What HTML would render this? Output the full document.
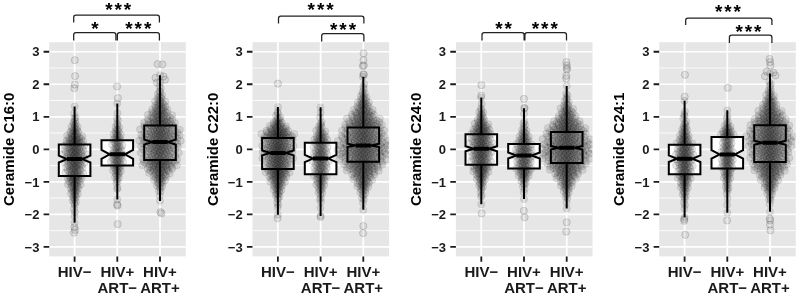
<!DOCTYPE html>
<html lang="en"><head><meta charset="utf-8"><title>Ceramide levels by HIV / ART status</title>
<style>html,body{margin:0;padding:0;background:#fff}svg{display:block}text{font-family:"Liberation Sans",Arial,Helvetica,sans-serif;font-weight:bold}.yt{font-size:13px;fill:#1a1a1a;text-anchor:end}.xt{font-size:15px;fill:#1a1a1a;text-anchor:middle}.ti{font-size:15px;fill:#000;text-anchor:middle}.st{font-size:19px;letter-spacing:1.9px;fill:#000;text-anchor:middle}.pt circle{r:3.6px}</style></head><body>
<svg width="800" height="298" viewBox="0 0 800 298">
<rect width="800" height="298" fill="#fff"/>
<defs><filter id="sf" x="-5%" y="-5%" width="110%" height="110%"><feGaussianBlur stdDeviation="0.75"/></filter><filter id="so" x="-20%" y="-5%" width="140%" height="110%"><feGaussianBlur stdDeviation="0.4"/></filter></defs>
<g>
<rect x="49.2" y="42.2" width="136.6" height="214.2" fill="#e6e6e6"/>
<path d="M49.2 230.60H185.8M49.2 198.08H185.8M49.2 165.56H185.8M49.2 133.04H185.8M49.2 100.52H185.8M49.2 68.00H185.8" stroke="#fff" stroke-width="0.85" fill="none"/>
<path d="M49.2 246.86H185.8M49.2 214.34H185.8M49.2 181.82H185.8M49.2 149.30H185.8M49.2 116.78H185.8M49.2 84.26H185.8M49.2 51.74H185.8M74.60 42.2V256.4M117.30 42.2V256.4M160.00 42.2V256.4" stroke="#fff" stroke-width="1.7" fill="none"/>
<path d="M43.6 246.86H49.2M43.6 214.34H49.2M43.6 181.82H49.2M43.6 149.30H49.2M43.6 116.78H49.2M43.6 84.26H49.2M43.6 51.74H49.2M74.60 256.4V261.7M117.30 256.4V261.7M160.00 256.4V261.7" stroke="#1a1a1a" stroke-width="1.8" fill="none"/>
<text class="yt" x="39.4" y="251.5">−3</text>
<text class="yt" x="39.4" y="219.0">−2</text>
<text class="yt" x="39.4" y="186.5">−1</text>
<text class="yt" x="39.4" y="154.0">0</text>
<text class="yt" x="39.4" y="121.4">1</text>
<text class="yt" x="39.4" y="88.9">2</text>
<text class="yt" x="39.4" y="56.4">3</text>
<text class="xt" x="74.6" y="277.0">HIV−</text>
<text class="xt" x="117.3" y="277.0">HIV+</text>
<text class="xt" x="117.3" y="293.3">ART−</text>
<text class="xt" x="160.0" y="277.0">HIV+</text>
<text class="xt" x="160.0" y="293.3">ART+</text>
<text class="ti" transform="translate(14.3 149.3) rotate(-90)">Ceramide C16:0</text>
<path d="M58.8 144.4H90.4V155.6L82.2 159.1L90.4 162.5V176.0H58.8V162.5L67.0 159.1L58.8 155.6ZM101.5 140.2H133.1V149.9L124.9 154.3L133.1 158.8V165.6H101.5V158.8L109.7 154.3L101.5 149.9ZM144.2 125.6H175.8V139.6L167.6 142.1L175.8 144.6V160.0H144.2V144.6L152.4 142.1L144.2 139.6Z" fill="#fff"/>
<clipPath id="cp0"><rect x="49.2" y="42.2" width="136.6" height="214.2"/></clipPath>
<g clip-path="url(#cp0)">
<g class="pt" filter="url(#sf)" fill="#000" fill-opacity=".10" stroke="#000" stroke-opacity=".09" stroke-width="0.9">
<circle r="3.6" cx="74.6" cy="222.8"/><circle r="3.6" cx="74.4" cy="215.9"/><circle r="3.6" cx="74.9" cy="212.1"/><circle r="3.6" cx="74" cy="208.9"/><circle r="3.6" cx="74.8" cy="205"/><circle r="3.6" cx="74.3" cy="203.1"/><circle r="3.6" cx="75.9" cy="202"/><circle r="3.6" cx="72.7" cy="200.5"/><circle r="3.6" cx="74.8" cy="199.5"/><circle r="3.6" cx="73.8" cy="198"/><circle r="3.6" cx="76.1" cy="197.1"/><circle r="3.6" cx="73" cy="196.8"/><circle r="3.6" cx="75.5" cy="195.3"/><circle r="3.6" cx="74.3" cy="195"/><circle r="3.6" cx="77.8" cy="193.7"/><circle r="3.6" cx="70.9" cy="193.4"/><circle r="3.6" cx="74.8" cy="192.2"/><circle r="3.6" cx="73.2" cy="191.7"/><circle r="3.6" cx="76.5" cy="191.2"/><circle r="3.6" cx="72" cy="190.5"/><circle r="3.6" cx="75.6" cy="190.1"/><circle r="3.6" cx="74" cy="189.5"/><circle r="3.6" cx="78.3" cy="188.6"/><circle r="3.6" cx="70.8" cy="188.1"/><circle r="3.6" cx="75.3" cy="187.6"/><circle r="3.6" cx="73.4" cy="187.2"/><circle r="3.6" cx="77.9" cy="186.4"/><circle r="3.6" cx="72" cy="185.9"/><circle r="3.6" cx="76.6" cy="185.6"/><circle r="3.6" cx="74.3" cy="185.1"/><circle r="3.6" cx="80.7" cy="184.6"/><circle r="3.6" cx="67.9" cy="184.3"/><circle r="3.6" cx="74.7" cy="184"/><circle r="3.6" cx="72.2" cy="183.3"/><circle r="3.6" cx="77.4" cy="183"/><circle r="3.6" cx="70.4" cy="182.7"/><circle r="3.6" cx="76" cy="182.2"/><circle r="3.6" cx="73.5" cy="181.7"/><circle r="3.6" cx="79.7" cy="181.3"/><circle r="3.6" cx="68.8" cy="181.1"/><circle r="3.6" cx="75.4" cy="180.6"/><circle r="3.6" cx="72.7" cy="180.3"/><circle r="3.6" cx="78.7" cy="179.9"/><circle r="3.6" cx="70.9" cy="179.6"/><circle r="3.6" cx="76.9" cy="179.2"/><circle r="3.6" cx="74.1" cy="178.7"/><circle r="3.6" cx="81.7" cy="178.6"/><circle r="3.6" cx="67.5" cy="178.1"/><circle r="3.6" cx="75.1" cy="178"/><circle r="3.6" cx="72.2" cy="177.4"/><circle r="3.6" cx="78.5" cy="177.1"/><circle r="3.6" cx="70.2" cy="176.9"/><circle r="3.6" cx="76.6" cy="176.4"/><circle r="3.6" cx="73.7" cy="176.3"/><circle r="3.6" cx="81.1" cy="175.9"/><circle r="3.6" cx="68.9" cy="175.6"/><circle r="3.6" cx="75.9" cy="175.2"/><circle r="3.6" cx="72.9" cy="174.7"/><circle r="3.6" cx="79.7" cy="174.5"/><circle r="3.6" cx="71.2" cy="174.2"/><circle r="3.6" cx="77.6" cy="173.8"/><circle r="3.6" cx="74.4" cy="173.5"/><circle r="3.6" cx="83.3" cy="173.2"/><circle r="3.6" cx="65.4" cy="172.7"/><circle r="3.6" cx="74.7" cy="172.5"/><circle r="3.6" cx="71.5" cy="172"/><circle r="3.6" cx="78" cy="171.8"/><circle r="3.6" cx="69.2" cy="171.3"/><circle r="3.6" cx="76.2" cy="171.1"/><circle r="3.6" cx="73.2" cy="170.9"/><circle r="3.6" cx="80.4" cy="170.4"/><circle r="3.6" cx="67.5" cy="170"/><circle r="3.6" cx="75.4" cy="169.8"/><circle r="3.6" cx="72.3" cy="169.4"/><circle r="3.6" cx="79.2" cy="169.2"/><circle r="3.6" cx="70.2" cy="168.9"/><circle r="3.6" cx="77.2" cy="168.5"/><circle r="3.6" cx="73.9" cy="168.1"/><circle r="3.6" cx="82.4" cy="167.8"/><circle r="3.6" cx="66.2" cy="167.6"/><circle r="3.6" cx="75.1" cy="167.2"/><circle r="3.6" cx="71.7" cy="167"/><circle r="3.6" cx="78.8" cy="166.7"/><circle r="3.6" cx="69.4" cy="166.3"/><circle r="3.6" cx="76.8" cy="166.1"/><circle r="3.6" cx="73.5" cy="165.7"/><circle r="3.6" cx="81.7" cy="165.4"/><circle r="3.6" cx="67.9" cy="165.1"/><circle r="3.6" cx="75.9" cy="165"/><circle r="3.6" cx="72.6" cy="164.5"/><circle r="3.6" cx="80.3" cy="164.2"/><circle r="3.6" cx="70.5" cy="163.9"/><circle r="3.6" cx="77.9" cy="163.8"/><circle r="3.6" cx="74.3" cy="163.3"/><circle r="3.6" cx="84.3" cy="163"/><circle r="3.6" cx="64.9" cy="162.7"/><circle r="3.6" cx="74.9" cy="162.6"/><circle r="3.6" cx="71.2" cy="162.1"/><circle r="3.6" cx="78.8" cy="161.9"/><circle r="3.6" cx="68.7" cy="161.6"/><circle r="3.6" cx="76.7" cy="161.4"/><circle r="3.6" cx="73.2" cy="161.2"/><circle r="3.6" cx="81.8" cy="160.7"/><circle r="3.6" cx="66.9" cy="160.4"/><circle r="3.6" cx="75.8" cy="160.3"/><circle r="3.6" cx="72.2" cy="159.9"/><circle r="3.6" cx="80.4" cy="159.7"/><circle r="3.6" cx="69.8" cy="159.2"/><circle r="3.6" cx="77.9" cy="159.2"/><circle r="3.6" cx="74.1" cy="158.8"/><circle r="3.6" cx="84.3" cy="158.5"/><circle r="3.6" cx="65.5" cy="158.4"/><circle r="3.6" cx="75.4" cy="158"/><circle r="3.6" cx="71.5" cy="157.9"/><circle r="3.6" cx="79.8" cy="157.5"/><circle r="3.6" cx="69" cy="157.3"/><circle r="3.6" cx="77.4" cy="157"/><circle r="3.6" cx="73.6" cy="156.9"/><circle r="3.6" cx="83.3" cy="156.5"/><circle r="3.6" cx="67.4" cy="156.4"/><circle r="3.6" cx="76.4" cy="156.1"/><circle r="3.6" cx="72.6" cy="155.8"/><circle r="3.6" cx="81.4" cy="155.4"/><circle r="3.6" cx="70.3" cy="155.3"/><circle r="3.6" cx="78.6" cy="155.1"/><circle r="3.6" cx="74.5" cy="154.8"/><circle r="3.6" cx="86.3" cy="154.4"/><circle r="3.6" cx="62.6" cy="154.3"/><circle r="3.6" cx="74.7" cy="154.1"/><circle r="3.6" cx="70.6" cy="153.8"/><circle r="3.6" cx="78.8" cy="153.5"/><circle r="3.6" cx="67.8" cy="153.2"/><circle r="3.6" cx="76.5" cy="152.9"/><circle r="3.6" cx="72.8" cy="152.7"/><circle r="3.6" cx="81.6" cy="152.5"/><circle r="3.6" cx="65.9" cy="152.2"/><circle r="3.6" cx="75.6" cy="151.8"/><circle r="3.6" cx="71.8" cy="151.6"/><circle r="3.6" cx="80" cy="151.3"/><circle r="3.6" cx="69.4" cy="151.1"/><circle r="3.6" cx="77.5" cy="150.8"/><circle r="3.6" cx="73.8" cy="150.6"/><circle r="3.6" cx="83.4" cy="150.2"/><circle r="3.6" cx="64.9" cy="150.1"/><circle r="3.6" cx="75.1" cy="149.8"/><circle r="3.6" cx="71.3" cy="149.4"/><circle r="3.6" cx="79.2" cy="149.3"/><circle r="3.6" cx="68.9" cy="148.8"/><circle r="3.6" cx="76.9" cy="148.7"/><circle r="3.6" cx="73.4" cy="148.3"/><circle r="3.6" cx="82.1" cy="148.2"/><circle r="3.6" cx="67.3" cy="147.8"/><circle r="3.6" cx="76" cy="147.6"/><circle r="3.6" cx="72.4" cy="147.2"/><circle r="3.6" cx="80.4" cy="147"/><circle r="3.6" cx="70.3" cy="146.6"/><circle r="3.6" cx="77.9" cy="146.2"/><circle r="3.6" cx="74.2" cy="146.1"/><circle r="3.6" cx="84.2" cy="145.6"/><circle r="3.6" cx="64.6" cy="145.5"/><circle r="3.6" cx="74.9" cy="145.2"/><circle r="3.6" cx="71.2" cy="144.8"/><circle r="3.6" cx="78.7" cy="144.5"/><circle r="3.6" cx="68.7" cy="144.1"/><circle r="3.6" cx="76.6" cy="143.9"/><circle r="3.6" cx="73.2" cy="143.8"/><circle r="3.6" cx="81.4" cy="143.5"/><circle r="3.6" cx="67.2" cy="143.1"/><circle r="3.6" cx="75.7" cy="142.8"/><circle r="3.6" cx="72.3" cy="142.7"/><circle r="3.6" cx="79.8" cy="142.4"/><circle r="3.6" cx="70.2" cy="142"/><circle r="3.6" cx="77.5" cy="141.9"/><circle r="3.6" cx="74.1" cy="141.6"/><circle r="3.6" cx="83" cy="141.2"/><circle r="3.6" cx="66.5" cy="140.9"/><circle r="3.6" cx="75.2" cy="140.7"/><circle r="3.6" cx="71.9" cy="140.3"/><circle r="3.6" cx="78.9" cy="140"/><circle r="3.6" cx="69.9" cy="139.7"/><circle r="3.6" cx="76.8" cy="139.4"/><circle r="3.6" cx="73.7" cy="139.2"/><circle r="3.6" cx="81.4" cy="138.9"/><circle r="3.6" cx="68.9" cy="138.4"/><circle r="3.6" cx="75.9" cy="138.1"/><circle r="3.6" cx="73" cy="137.9"/><circle r="3.6" cx="79.5" cy="137.5"/><circle r="3.6" cx="71.5" cy="137"/><circle r="3.6" cx="77.3" cy="136.7"/><circle r="3.6" cx="74.5" cy="136.3"/><circle r="3.6" cx="82.3" cy="136.1"/><circle r="3.6" cx="67.1" cy="135.6"/><circle r="3.6" cx="74.7" cy="135.2"/><circle r="3.6" cx="72.2" cy="134.9"/><circle r="3.6" cx="77.2" cy="134.1"/><circle r="3.6" cx="70.7" cy="133.8"/><circle r="3.6" cx="75.8" cy="133.6"/><circle r="3.6" cx="73.7" cy="132.8"/><circle r="3.6" cx="78.4" cy="132.2"/><circle r="3.6" cx="70.3" cy="131.8"/><circle r="3.6" cx="75.1" cy="131.4"/><circle r="3.6" cx="73.3" cy="130.9"/><circle r="3.6" cx="77.1" cy="130.1"/><circle r="3.6" cx="72.4" cy="129.7"/><circle r="3.6" cx="75.8" cy="128.8"/><circle r="3.6" cx="74.3" cy="128.1"/><circle r="3.6" cx="77.7" cy="127"/><circle r="3.6" cx="71.4" cy="126.9"/><circle r="3.6" cx="74.8" cy="125.6"/><circle r="3.6" cx="73.8" cy="124.3"/><circle r="3.6" cx="75.8" cy="123.8"/><circle r="3.6" cx="73.4" cy="122.3"/><circle r="3.6" cx="75.1" cy="121.2"/><circle r="3.6" cx="74.4" cy="118.4"/><circle r="3.6" cx="75.6" cy="117.4"/><circle r="3.6" cx="74.1" cy="113.4"/><circle r="3.6" cx="74.7" cy="106.4"/>
<circle r="3.6" cx="117.3" cy="199.4"/><circle r="3.6" cx="117" cy="189"/><circle r="3.6" cx="117.7" cy="187.9"/><circle r="3.6" cx="116.4" cy="182.6"/><circle r="3.6" cx="117.6" cy="181.6"/><circle r="3.6" cx="116.9" cy="179.7"/><circle r="3.6" cx="118.9" cy="177.9"/><circle r="3.6" cx="115" cy="177.1"/><circle r="3.6" cx="117.6" cy="175.9"/><circle r="3.6" cx="116.4" cy="175.4"/><circle r="3.6" cx="119.1" cy="173.9"/><circle r="3.6" cx="115.4" cy="173.2"/><circle r="3.6" cx="118.4" cy="172.5"/><circle r="3.6" cx="116.9" cy="171.5"/><circle r="3.6" cx="120.9" cy="171.1"/><circle r="3.6" cx="113" cy="170.3"/><circle r="3.6" cx="117.5" cy="169.8"/><circle r="3.6" cx="115.7" cy="169"/><circle r="3.6" cx="119.4" cy="168.5"/><circle r="3.6" cx="114.4" cy="167.9"/><circle r="3.6" cx="118.5" cy="167.1"/><circle r="3.6" cx="116.6" cy="166.7"/><circle r="3.6" cx="121.2" cy="166.1"/><circle r="3.6" cx="113.2" cy="165.3"/><circle r="3.6" cx="118" cy="164.8"/><circle r="3.6" cx="116" cy="164.4"/><circle r="3.6" cx="120.6" cy="163.9"/><circle r="3.6" cx="114.7" cy="163.5"/><circle r="3.6" cx="119.2" cy="163.1"/><circle r="3.6" cx="117" cy="162.2"/><circle r="3.6" cx="123.2" cy="161.9"/><circle r="3.6" cx="110.9" cy="161.6"/><circle r="3.6" cx="117.4" cy="160.9"/><circle r="3.6" cx="115.1" cy="160.3"/><circle r="3.6" cx="119.9" cy="159.9"/><circle r="3.6" cx="113.4" cy="159.3"/><circle r="3.6" cx="118.6" cy="159.3"/><circle r="3.6" cx="116.3" cy="158.6"/><circle r="3.6" cx="121.8" cy="158.2"/><circle r="3.6" cx="112.3" cy="157.9"/><circle r="3.6" cx="118" cy="157.2"/><circle r="3.6" cx="115.7" cy="156.6"/><circle r="3.6" cx="120.7" cy="156.3"/><circle r="3.6" cx="114.3" cy="156"/><circle r="3.6" cx="119.2" cy="155.3"/><circle r="3.6" cx="116.9" cy="155"/><circle r="3.6" cx="122.7" cy="154.6"/><circle r="3.6" cx="112" cy="153.9"/><circle r="3.6" cx="117.7" cy="153.7"/><circle r="3.6" cx="115.6" cy="152.8"/><circle r="3.6" cx="120" cy="152.3"/><circle r="3.6" cx="114.3" cy="151.7"/><circle r="3.6" cx="118.7" cy="151.4"/><circle r="3.6" cx="116.7" cy="150.5"/><circle r="3.6" cx="121.5" cy="150.3"/><circle r="3.6" cx="113.6" cy="149.8"/><circle r="3.6" cx="118.1" cy="148.8"/><circle r="3.6" cx="116.3" cy="148.2"/><circle r="3.6" cx="120.4" cy="147.6"/><circle r="3.6" cx="115.2" cy="147.2"/><circle r="3.6" cx="119.1" cy="146.7"/><circle r="3.6" cx="117.2" cy="146.3"/><circle r="3.6" cx="122.4" cy="145.3"/><circle r="3.6" cx="112" cy="144.7"/><circle r="3.6" cx="117.3" cy="144"/><circle r="3.6" cx="115.5" cy="143.7"/><circle r="3.6" cx="119.2" cy="143.1"/><circle r="3.6" cx="114.3" cy="142.2"/><circle r="3.6" cx="118.2" cy="141.4"/><circle r="3.6" cx="116.5" cy="140.6"/><circle r="3.6" cx="120.5" cy="140.4"/><circle r="3.6" cx="113.5" cy="139.6"/><circle r="3.6" cx="117.7" cy="138.8"/><circle r="3.6" cx="116.1" cy="138.5"/><circle r="3.6" cx="119.7" cy="137.8"/><circle r="3.6" cx="115.1" cy="137.5"/><circle r="3.6" cx="118.6" cy="136.5"/><circle r="3.6" cx="117" cy="135.6"/><circle r="3.6" cx="120.9" cy="135"/><circle r="3.6" cx="113.6" cy="134.2"/><circle r="3.6" cx="117.5" cy="133.6"/><circle r="3.6" cx="116.1" cy="133.1"/><circle r="3.6" cx="118.9" cy="131.8"/><circle r="3.6" cx="115.4" cy="131.4"/><circle r="3.6" cx="118" cy="129.9"/><circle r="3.6" cx="116.9" cy="129.6"/><circle r="3.6" cx="119.2" cy="127.6"/><circle r="3.6" cx="115.6" cy="127.1"/><circle r="3.6" cx="117.6" cy="125.5"/><circle r="3.6" cx="117" cy="123.9"/><circle r="3.6" cx="118" cy="120.4"/><circle r="3.6" cx="116.9" cy="118.6"/><circle r="3.6" cx="117.5" cy="113.2"/><circle r="3.6" cx="117.3" cy="103.4"/>
<circle r="3.6" cx="160" cy="201"/><circle r="3.6" cx="159.7" cy="195.9"/><circle r="3.6" cx="160.7" cy="191.5"/><circle r="3.6" cx="158.8" cy="190.8"/><circle r="3.6" cx="160.5" cy="188.4"/><circle r="3.6" cx="159.4" cy="187"/><circle r="3.6" cx="162.2" cy="186.4"/><circle r="3.6" cx="156.9" cy="185.5"/><circle r="3.6" cx="160.4" cy="184.4"/><circle r="3.6" cx="158.7" cy="183.3"/><circle r="3.6" cx="162.5" cy="182.7"/><circle r="3.6" cx="157.4" cy="182.3"/><circle r="3.6" cx="161.5" cy="181.5"/><circle r="3.6" cx="159.5" cy="180.8"/><circle r="3.6" cx="165.1" cy="180.3"/><circle r="3.6" cx="153.8" cy="179.7"/><circle r="3.6" cx="160.3" cy="179.1"/><circle r="3.6" cx="157.7" cy="178.8"/><circle r="3.6" cx="163.2" cy="178.4"/><circle r="3.6" cx="155.7" cy="178"/><circle r="3.6" cx="161.7" cy="177.5"/><circle r="3.6" cx="159" cy="177"/><circle r="3.6" cx="166.2" cy="176.4"/><circle r="3.6" cx="153.7" cy="176"/><circle r="3.6" cx="161.1" cy="175.8"/><circle r="3.6" cx="158" cy="175.2"/><circle r="3.6" cx="165.3" cy="174.9"/><circle r="3.6" cx="155.8" cy="174.5"/><circle r="3.6" cx="163.2" cy="174.3"/><circle r="3.6" cx="159.6" cy="174"/><circle r="3.6" cx="169.7" cy="173.6"/><circle r="3.6" cx="149.1" cy="173"/><circle r="3.6" cx="160.2" cy="172.8"/><circle r="3.6" cx="156.1" cy="172.4"/><circle r="3.6" cx="164.6" cy="172.2"/><circle r="3.6" cx="153.1" cy="171.9"/><circle r="3.6" cx="162.3" cy="171.6"/><circle r="3.6" cx="158.2" cy="171.3"/><circle r="3.6" cx="168.4" cy="170.9"/><circle r="3.6" cx="150.4" cy="170.7"/><circle r="3.6" cx="161.3" cy="170.4"/><circle r="3.6" cx="156.8" cy="170.2"/><circle r="3.6" cx="167" cy="169.8"/><circle r="3.6" cx="153.8" cy="169.7"/><circle r="3.6" cx="164" cy="169.3"/><circle r="3.6" cx="159.2" cy="169.2"/><circle r="3.6" cx="172.2" cy="168.9"/><circle r="3.6" cx="147.7" cy="168.7"/><circle r="3.6" cx="160.9" cy="168.5"/><circle r="3.6" cx="155.7" cy="168.3"/><circle r="3.6" cx="166.8" cy="167.9"/><circle r="3.6" cx="152.1" cy="167.7"/><circle r="3.6" cx="163.7" cy="167.4"/><circle r="3.6" cx="158.4" cy="167.2"/><circle r="3.6" cx="171.8" cy="167"/><circle r="3.6" cx="149.4" cy="166.7"/><circle r="3.6" cx="162.3" cy="166.5"/><circle r="3.6" cx="156.9" cy="166.3"/><circle r="3.6" cx="169.6" cy="166.1"/><circle r="3.6" cx="153.5" cy="166"/><circle r="3.6" cx="165.7" cy="165.8"/><circle r="3.6" cx="159.7" cy="165.6"/><circle r="3.6" cx="176.8" cy="165.3"/><circle r="3.6" cx="142.3" cy="165.2"/><circle r="3.6" cx="160.2" cy="165"/><circle r="3.6" cx="153.9" cy="164.6"/><circle r="3.6" cx="166.6" cy="164.6"/><circle r="3.6" cx="149.5" cy="164.3"/><circle r="3.6" cx="163.2" cy="164.1"/><circle r="3.6" cx="157.2" cy="163.9"/><circle r="3.6" cx="171.4" cy="163.7"/><circle r="3.6" cx="146.2" cy="163.5"/><circle r="3.6" cx="161.6" cy="163.3"/><circle r="3.6" cx="155.5" cy="163.1"/><circle r="3.6" cx="169" cy="162.9"/><circle r="3.6" cx="151.6" cy="162.8"/><circle r="3.6" cx="165" cy="162.5"/><circle r="3.6" cx="158.7" cy="162.5"/><circle r="3.6" cx="174.9" cy="162.2"/><circle r="3.6" cx="144" cy="162.1"/><circle r="3.6" cx="160.9" cy="162"/><circle r="3.6" cx="154.6" cy="161.7"/><circle r="3.6" cx="167.9" cy="161.5"/><circle r="3.6" cx="150.3" cy="161.3"/><circle r="3.6" cx="164.1" cy="161.3"/><circle r="3.6" cx="158" cy="161.1"/><circle r="3.6" cx="173.1" cy="160.9"/><circle r="3.6" cx="147.7" cy="160.6"/><circle r="3.6" cx="162.4" cy="160.6"/><circle r="3.6" cx="156.3" cy="160.4"/><circle r="3.6" cx="170.2" cy="160.1"/><circle r="3.6" cx="152.6" cy="160"/><circle r="3.6" cx="165.9" cy="159.8"/><circle r="3.6" cx="159.5" cy="159.7"/><circle r="3.6" cx="177.1" cy="159.4"/><circle r="3.6" cx="143" cy="159.2"/><circle r="3.6" cx="160.5" cy="158.9"/><circle r="3.6" cx="154.2" cy="158.8"/><circle r="3.6" cx="167.3" cy="158.5"/><circle r="3.6" cx="149.9" cy="158.3"/><circle r="3.6" cx="163.6" cy="158"/><circle r="3.6" cx="157.6" cy="157.9"/><circle r="3.6" cx="172" cy="157.6"/><circle r="3.6" cx="147.2" cy="157.4"/><circle r="3.6" cx="162" cy="157.1"/><circle r="3.6" cx="156" cy="156.9"/><circle r="3.6" cx="169.4" cy="156.8"/><circle r="3.6" cx="152.3" cy="156.6"/><circle r="3.6" cx="165.3" cy="156.3"/><circle r="3.6" cx="159.1" cy="156.1"/><circle r="3.6" cx="175.5" cy="156"/><circle r="3.6" cx="145.5" cy="155.8"/><circle r="3.6" cx="161.2" cy="155.5"/><circle r="3.6" cx="155.2" cy="155.3"/><circle r="3.6" cx="168.3" cy="155"/><circle r="3.6" cx="151.2" cy="154.8"/><circle r="3.6" cx="164.4" cy="154.6"/><circle r="3.6" cx="158.4" cy="154.6"/><circle r="3.6" cx="173.7" cy="154.2"/><circle r="3.6" cx="148.6" cy="154"/><circle r="3.6" cx="162.8" cy="153.9"/><circle r="3.6" cx="156.8" cy="153.7"/><circle r="3.6" cx="170.8" cy="153.4"/><circle r="3.6" cx="153.2" cy="153.3"/><circle r="3.6" cx="166.3" cy="153.1"/><circle r="3.6" cx="159.8" cy="152.8"/><circle r="3.6" cx="178.8" cy="152.6"/><circle r="3.6" cx="140.7" cy="152.5"/><circle r="3.6" cx="160.1" cy="152.2"/><circle r="3.6" cx="153.5" cy="152.1"/><circle r="3.6" cx="166.8" cy="151.8"/><circle r="3.6" cx="148.8" cy="151.7"/><circle r="3.6" cx="163.2" cy="151.4"/><circle r="3.6" cx="157" cy="151.4"/><circle r="3.6" cx="171.6" cy="151.1"/><circle r="3.6" cx="145.5" cy="150.9"/><circle r="3.6" cx="161.6" cy="150.7"/><circle r="3.6" cx="155.3" cy="150.6"/><circle r="3.6" cx="169.1" cy="150.3"/><circle r="3.6" cx="151.2" cy="150.2"/><circle r="3.6" cx="165" cy="150"/><circle r="3.6" cx="158.6" cy="149.9"/><circle r="3.6" cx="175.2" cy="149.5"/><circle r="3.6" cx="143.1" cy="149.4"/><circle r="3.6" cx="160.8" cy="149.3"/><circle r="3.6" cx="154.2" cy="149.1"/><circle r="3.6" cx="168.1" cy="148.9"/><circle r="3.6" cx="149.8" cy="148.6"/><circle r="3.6" cx="164.2" cy="148.5"/><circle r="3.6" cx="157.8" cy="148.2"/><circle r="3.6" cx="173.6" cy="148"/><circle r="3.6" cx="146.8" cy="148"/><circle r="3.6" cx="162.5" cy="147.7"/><circle r="3.6" cx="156" cy="147.6"/><circle r="3.6" cx="170.7" cy="147.3"/><circle r="3.6" cx="152" cy="147.2"/><circle r="3.6" cx="166.1" cy="147"/><circle r="3.6" cx="159.3" cy="146.8"/><circle r="3.6" cx="178" cy="146.6"/><circle r="3.6" cx="141.2" cy="146.4"/><circle r="3.6" cx="160.5" cy="146.2"/><circle r="3.6" cx="153.6" cy="146.1"/><circle r="3.6" cx="167.8" cy="145.9"/><circle r="3.6" cx="148.8" cy="145.7"/><circle r="3.6" cx="163.8" cy="145.5"/><circle r="3.6" cx="157.3" cy="145.3"/><circle r="3.6" cx="173.1" cy="145.1"/><circle r="3.6" cx="145.5" cy="144.9"/><circle r="3.6" cx="162.1" cy="144.7"/><circle r="3.6" cx="155.4" cy="144.6"/><circle r="3.6" cx="170.3" cy="144.5"/><circle r="3.6" cx="151.2" cy="144.2"/><circle r="3.6" cx="165.8" cy="144.1"/><circle r="3.6" cx="158.9" cy="143.8"/><circle r="3.6" cx="177.3" cy="143.6"/><circle r="3.6" cx="143.3" cy="143.6"/><circle r="3.6" cx="161.3" cy="143.3"/><circle r="3.6" cx="154.4" cy="143.1"/><circle r="3.6" cx="169.2" cy="143"/><circle r="3.6" cx="149.8" cy="142.7"/><circle r="3.6" cx="164.9" cy="142.6"/><circle r="3.6" cx="158" cy="142.4"/><circle r="3.6" cx="175.3" cy="142.3"/><circle r="3.6" cx="146.9" cy="142.1"/><circle r="3.6" cx="163.1" cy="142"/><circle r="3.6" cx="156.3" cy="141.7"/><circle r="3.6" cx="172" cy="141.5"/><circle r="3.6" cx="152.1" cy="141.5"/><circle r="3.6" cx="167" cy="141.2"/><circle r="3.6" cx="159.7" cy="141"/><circle r="3.6" cx="180.7" cy="140.8"/><circle r="3.6" cx="139.3" cy="140.7"/><circle r="3.6" cx="160.3" cy="140.5"/><circle r="3.6" cx="152.9" cy="140.4"/><circle r="3.6" cx="167.9" cy="140.3"/><circle r="3.6" cx="147.9" cy="140"/><circle r="3.6" cx="163.8" cy="139.9"/><circle r="3.6" cx="156.9" cy="139.7"/><circle r="3.6" cx="173.3" cy="139.6"/><circle r="3.6" cx="144.4" cy="139.4"/><circle r="3.6" cx="162" cy="139.1"/><circle r="3.6" cx="155" cy="139.1"/><circle r="3.6" cx="170.4" cy="138.9"/><circle r="3.6" cx="150.6" cy="138.7"/><circle r="3.6" cx="165.8" cy="138.6"/><circle r="3.6" cx="158.7" cy="138.3"/><circle r="3.6" cx="177.2" cy="138.2"/><circle r="3.6" cx="142.3" cy="138"/><circle r="3.6" cx="161.1" cy="137.8"/><circle r="3.6" cx="154" cy="137.7"/><circle r="3.6" cx="169.1" cy="137.4"/><circle r="3.6" cx="149.3" cy="137.3"/><circle r="3.6" cx="164.7" cy="137.1"/><circle r="3.6" cx="157.8" cy="136.9"/><circle r="3.6" cx="175" cy="136.8"/><circle r="3.6" cx="146.3" cy="136.7"/><circle r="3.6" cx="162.8" cy="136.4"/><circle r="3.6" cx="156" cy="136.2"/><circle r="3.6" cx="171.7" cy="136.2"/><circle r="3.6" cx="151.9" cy="136"/><circle r="3.6" cx="166.7" cy="135.8"/><circle r="3.6" cx="159.5" cy="135.6"/><circle r="3.6" cx="179.6" cy="135.3"/><circle r="3.6" cx="141.2" cy="135.2"/><circle r="3.6" cx="160.7" cy="135"/><circle r="3.6" cx="153.6" cy="134.9"/><circle r="3.6" cx="168.3" cy="134.7"/><circle r="3.6" cx="148.9" cy="134.5"/><circle r="3.6" cx="164.2" cy="134.4"/><circle r="3.6" cx="157.4" cy="134.2"/><circle r="3.6" cx="173.7" cy="134.1"/><circle r="3.6" cx="145.9" cy="133.8"/><circle r="3.6" cx="162.3" cy="133.7"/><circle r="3.6" cx="155.7" cy="133.5"/><circle r="3.6" cx="170.6" cy="133.4"/><circle r="3.6" cx="151.6" cy="133.1"/><circle r="3.6" cx="166" cy="132.9"/><circle r="3.6" cx="159.1" cy="132.8"/><circle r="3.6" cx="177.5" cy="132.6"/><circle r="3.6" cx="144.3" cy="132.4"/><circle r="3.6" cx="161.5" cy="132.2"/><circle r="3.6" cx="154.8" cy="131.9"/><circle r="3.6" cx="169.2" cy="131.9"/><circle r="3.6" cx="150.6" cy="131.6"/><circle r="3.6" cx="164.9" cy="131.5"/><circle r="3.6" cx="158.4" cy="131.2"/><circle r="3.6" cx="174.9" cy="131.1"/><circle r="3.6" cx="148" cy="131"/><circle r="3.6" cx="163.1" cy="130.8"/><circle r="3.6" cx="156.7" cy="130.6"/><circle r="3.6" cx="171.5" cy="130.4"/><circle r="3.6" cx="153" cy="130.2"/><circle r="3.6" cx="166.7" cy="129.9"/><circle r="3.6" cx="159.9" cy="129.8"/><circle r="3.6" cx="179.8" cy="129.6"/><circle r="3.6" cx="140" cy="129.4"/><circle r="3.6" cx="160" cy="129.2"/><circle r="3.6" cx="153.3" cy="129"/><circle r="3.6" cx="166.8" cy="128.9"/><circle r="3.6" cx="148.7" cy="128.6"/><circle r="3.6" cx="163.1" cy="128.4"/><circle r="3.6" cx="157" cy="128.3"/><circle r="3.6" cx="171.3" cy="128"/><circle r="3.6" cx="145.8" cy="127.9"/><circle r="3.6" cx="161.5" cy="127.7"/><circle r="3.6" cx="155.4" cy="127.5"/><circle r="3.6" cx="168.7" cy="127.2"/><circle r="3.6" cx="151.5" cy="127"/><circle r="3.6" cx="164.7" cy="126.8"/><circle r="3.6" cx="158.6" cy="126.7"/><circle r="3.6" cx="174.1" cy="126.5"/><circle r="3.6" cx="144.2" cy="126.2"/><circle r="3.6" cx="160.7" cy="125.9"/><circle r="3.6" cx="154.6" cy="125.7"/><circle r="3.6" cx="167.4" cy="125.6"/><circle r="3.6" cx="150.7" cy="125.3"/><circle r="3.6" cx="163.7" cy="125.2"/><circle r="3.6" cx="157.9" cy="125"/><circle r="3.6" cx="172" cy="124.8"/><circle r="3.6" cx="148.2" cy="124.6"/><circle r="3.6" cx="162.1" cy="124.4"/><circle r="3.6" cx="156.5" cy="124.1"/><circle r="3.6" cx="169.2" cy="124"/><circle r="3.6" cx="153.1" cy="123.7"/><circle r="3.6" cx="165.2" cy="123.6"/><circle r="3.6" cx="159.4" cy="123.3"/><circle r="3.6" cx="175" cy="123.1"/><circle r="3.6" cx="144.1" cy="122.9"/><circle r="3.6" cx="160.4" cy="122.7"/><circle r="3.6" cx="154.6" cy="122.5"/><circle r="3.6" cx="166.3" cy="122.3"/><circle r="3.6" cx="150.8" cy="122.1"/><circle r="3.6" cx="163" cy="121.8"/><circle r="3.6" cx="157.8" cy="121.7"/><circle r="3.6" cx="170.3" cy="121.4"/><circle r="3.6" cx="148.6" cy="121.2"/><circle r="3.6" cx="161.6" cy="121"/><circle r="3.6" cx="156.4" cy="120.7"/><circle r="3.6" cx="167.8" cy="120.4"/><circle r="3.6" cx="153.3" cy="120.2"/><circle r="3.6" cx="164.3" cy="120"/><circle r="3.6" cx="159.2" cy="119.7"/><circle r="3.6" cx="172.4" cy="119.4"/><circle r="3.6" cx="147.9" cy="119.2"/><circle r="3.6" cx="160.9" cy="118.9"/><circle r="3.6" cx="156" cy="118.6"/><circle r="3.6" cx="166.4" cy="118.5"/><circle r="3.6" cx="153" cy="118.2"/><circle r="3.6" cx="163.3" cy="118"/><circle r="3.6" cx="158.7" cy="117.8"/><circle r="3.6" cx="170.1" cy="117.5"/><circle r="3.6" cx="151.4" cy="117.1"/><circle r="3.6" cx="161.9" cy="116.9"/><circle r="3.6" cx="157.6" cy="116.6"/><circle r="3.6" cx="167.5" cy="116.4"/><circle r="3.6" cx="155.1" cy="116"/><circle r="3.6" cx="164.2" cy="115.7"/><circle r="3.6" cx="159.8" cy="115.6"/><circle r="3.6" cx="172.1" cy="115.1"/><circle r="3.6" cx="147.9" cy="114.8"/><circle r="3.6" cx="160.1" cy="114.5"/><circle r="3.6" cx="156" cy="114.3"/><circle r="3.6" cx="164.4" cy="114"/><circle r="3.6" cx="153.3" cy="113.7"/><circle r="3.6" cx="162" cy="113.5"/><circle r="3.6" cx="158.3" cy="113"/><circle r="3.6" cx="166.8" cy="112.6"/><circle r="3.6" cx="152" cy="112.3"/><circle r="3.6" cx="161" cy="112"/><circle r="3.6" cx="157.5" cy="111.5"/><circle r="3.6" cx="165" cy="111.2"/><circle r="3.6" cx="155.5" cy="111"/><circle r="3.6" cx="162.6" cy="110.4"/><circle r="3.6" cx="159.4" cy="110.2"/><circle r="3.6" cx="167.5" cy="109.6"/><circle r="3.6" cx="152.2" cy="109.4"/><circle r="3.6" cx="160.5" cy="109.1"/><circle r="3.6" cx="157.5" cy="108.4"/><circle r="3.6" cx="163.7" cy="108.3"/><circle r="3.6" cx="155.8" cy="107.5"/><circle r="3.6" cx="161.8" cy="107.2"/><circle r="3.6" cx="159.2" cy="106.6"/><circle r="3.6" cx="165.5" cy="106.4"/><circle r="3.6" cx="155.2" cy="105.7"/><circle r="3.6" cx="160.9" cy="105.1"/><circle r="3.6" cx="158.6" cy="104.8"/><circle r="3.6" cx="163.7" cy="104"/><circle r="3.6" cx="157.5" cy="103.7"/><circle r="3.6" cx="162" cy="103"/><circle r="3.6" cx="159.8" cy="102.4"/><circle r="3.6" cx="165.3" cy="101.7"/><circle r="3.6" cx="155" cy="101.3"/><circle r="3.6" cx="160.2" cy="100.6"/><circle r="3.6" cx="158.5" cy="99.5"/><circle r="3.6" cx="161.8" cy="98.7"/><circle r="3.6" cx="157.7" cy="98.1"/><circle r="3.6" cx="160.8" cy="97.3"/><circle r="3.6" cx="159.5" cy="96"/><circle r="3.6" cx="162.2" cy="95.1"/><circle r="3.6" cx="157.9" cy="94"/><circle r="3.6" cx="160.3" cy="91.9"/><circle r="3.6" cx="159.5" cy="91.3"/><circle r="3.6" cx="160.8" cy="88.2"/><circle r="3.6" cx="159.5" cy="85.9"/><circle r="3.6" cx="160.2" cy="81.9"/><circle r="3.6" cx="160" cy="75.2"/>
</g>
<g class="pt" filter="url(#so)" fill="#000" fill-opacity=".075" stroke="#000" stroke-opacity=".17" stroke-width="0.9">
<circle r="3.6" cx="74.8" cy="60.2"/><circle r="3.6" cx="75.1" cy="76.1"/><circle r="3.6" cx="74.9" cy="84.6"/><circle r="3.6" cx="74.3" cy="88.2"/><circle r="3.6" cx="74.4" cy="227.3"/><circle r="3.6" cx="75" cy="229.9"/><circle r="3.6" cx="74" cy="232.6"/><circle r="3.6" cx="117.1" cy="86.5"/><circle r="3.6" cx="117.9" cy="98.2"/><circle r="3.6" cx="117.1" cy="204.6"/><circle r="3.6" cx="117.6" cy="205.6"/><circle r="3.6" cx="117.7" cy="224.1"/><circle r="3.6" cx="157.6" cy="64.1"/><circle r="3.6" cx="162.4" cy="64.4"/><circle r="3.6" cx="155.5" cy="77.8"/><circle r="3.6" cx="163.5" cy="76.5"/><circle r="3.6" cx="165" cy="79.7"/><circle r="3.6" cx="157" cy="82.6"/><circle r="3.6" cx="160.4" cy="212.1"/><circle r="3.6" cx="161.5" cy="213.4"/>
</g></g>
<path d="M74.6 106.4V144.4M74.6 176.0V222.8M58.8 144.4H90.4V155.6L82.2 159.1L90.4 162.5V176.0H58.8V162.5L67.0 159.1L58.8 155.6ZM117.3 103.4V140.2M117.3 165.6V199.4M101.5 140.2H133.1V149.9L124.9 154.3L133.1 158.8V165.6H101.5V158.8L109.7 154.3L101.5 149.9ZM160.0 75.2V125.6M160.0 160.0V201.0M144.2 125.6H175.8V139.6L167.6 142.1L175.8 144.6V160.0H144.2V144.6L152.4 142.1L144.2 139.6Z" stroke="#000" stroke-width="2" fill="none" stroke-linejoin="miter"/>
<path d="M67.0 159.1H82.2M109.7 154.3H124.9M152.4 142.1H167.6" stroke="#000" stroke-width="4" fill="none"/>
<text class="st" x="119.15" y="16.4">***</text>
<text class="st" x="95.85" y="35.2">*</text>
<text class="st" x="139.25" y="35.2">***</text>
<path d="M73.7 22.4V17.3Q73.7 15.1 75.9 15.1H157.2Q159.4 15.1 159.4 17.3V22.4M73.7 40.6V34.7Q73.7 32.5 75.9 32.5H113.7Q115.9 32.5 115.9 34.7V40.6M117.4 40.6V34.7Q117.4 32.5 119.6 32.5H157.2Q159.4 32.5 159.4 34.7V40.6" stroke="#222" stroke-width="1.25" fill="none"/>
</g>
<g>
<rect x="252.5" y="42.2" width="136.6" height="214.2" fill="#e6e6e6"/>
<path d="M252.5 230.60H389.1M252.5 198.08H389.1M252.5 165.56H389.1M252.5 133.04H389.1M252.5 100.52H389.1M252.5 68.00H389.1" stroke="#fff" stroke-width="0.85" fill="none"/>
<path d="M252.5 246.86H389.1M252.5 214.34H389.1M252.5 181.82H389.1M252.5 149.30H389.1M252.5 116.78H389.1M252.5 84.26H389.1M252.5 51.74H389.1M277.90 42.2V256.4M320.60 42.2V256.4M363.30 42.2V256.4" stroke="#fff" stroke-width="1.7" fill="none"/>
<path d="M246.9 246.86H252.5M246.9 214.34H252.5M246.9 181.82H252.5M246.9 149.30H252.5M246.9 116.78H252.5M246.9 84.26H252.5M246.9 51.74H252.5M277.90 256.4V261.7M320.60 256.4V261.7M363.30 256.4V261.7" stroke="#1a1a1a" stroke-width="1.8" fill="none"/>
<text class="yt" x="242.7" y="251.5">−3</text>
<text class="yt" x="242.7" y="219.0">−2</text>
<text class="yt" x="242.7" y="186.5">−1</text>
<text class="yt" x="242.7" y="154.0">0</text>
<text class="yt" x="242.7" y="121.4">1</text>
<text class="yt" x="242.7" y="88.9">2</text>
<text class="yt" x="242.7" y="56.4">3</text>
<text class="xt" x="277.9" y="277.0">HIV−</text>
<text class="xt" x="320.6" y="277.0">HIV+</text>
<text class="xt" x="320.6" y="293.3">ART−</text>
<text class="xt" x="363.3" y="277.0">HIV+</text>
<text class="xt" x="363.3" y="293.3">ART+</text>
<text class="ti" transform="translate(217.6 149.3) rotate(-90)">Ceramide C22:0</text>
<path d="M262.1 137.9H293.7V150.4L285.5 152.9L293.7 155.4V169.1H262.1V155.4L270.3 152.9L262.1 150.4ZM304.8 142.8H336.4V154.9L328.2 158.6L336.4 162.2V174.2H304.8V162.2L313.0 158.6L304.8 154.9ZM347.5 127.5H379.1V143.7L370.9 145.4L379.1 147.1V161.7H347.5V147.1L355.7 145.4L347.5 143.7Z" fill="#fff"/>
<clipPath id="cp1"><rect x="252.5" y="42.2" width="136.6" height="214.2"/></clipPath>
<g clip-path="url(#cp1)">
<g class="pt" filter="url(#sf)" fill="#000" fill-opacity=".10" stroke="#000" stroke-opacity=".09" stroke-width="0.9">
<circle r="3.6" cx="277.9" cy="214.7"/><circle r="3.6" cx="277.6" cy="207.4"/><circle r="3.6" cx="278.3" cy="204.8"/><circle r="3.6" cx="277.1" cy="202.7"/><circle r="3.6" cx="278.2" cy="199.2"/><circle r="3.6" cx="277.6" cy="198.3"/><circle r="3.6" cx="279.5" cy="196.7"/><circle r="3.6" cx="275.6" cy="195.5"/><circle r="3.6" cx="278.2" cy="194.7"/><circle r="3.6" cx="277" cy="194.2"/><circle r="3.6" cx="279.7" cy="192.7"/><circle r="3.6" cx="276.1" cy="192.4"/><circle r="3.6" cx="279" cy="191.4"/><circle r="3.6" cx="277.6" cy="190.8"/><circle r="3.6" cx="281.5" cy="190.1"/><circle r="3.6" cx="273.6" cy="189.5"/><circle r="3.6" cx="278.1" cy="188.6"/><circle r="3.6" cx="276.3" cy="188.3"/><circle r="3.6" cx="280.2" cy="187.5"/><circle r="3.6" cx="274.9" cy="187.1"/><circle r="3.6" cx="279.1" cy="186.3"/><circle r="3.6" cx="277.2" cy="185.8"/><circle r="3.6" cx="282.2" cy="185.6"/><circle r="3.6" cx="273.5" cy="185.1"/><circle r="3.6" cx="278.7" cy="184.4"/><circle r="3.6" cx="276.5" cy="184"/><circle r="3.6" cx="281.7" cy="183.6"/><circle r="3.6" cx="274.9" cy="183.3"/><circle r="3.6" cx="280.2" cy="182.9"/><circle r="3.6" cx="277.6" cy="182.6"/><circle r="3.6" cx="284.9" cy="182"/><circle r="3.6" cx="270.3" cy="181.8"/><circle r="3.6" cx="278.1" cy="181.3"/><circle r="3.6" cx="275.2" cy="180.8"/><circle r="3.6" cx="281.1" cy="180.7"/><circle r="3.6" cx="273" cy="180.1"/><circle r="3.6" cx="279.5" cy="180"/><circle r="3.6" cx="276.6" cy="179.5"/><circle r="3.6" cx="283.8" cy="179.1"/><circle r="3.6" cx="271.2" cy="178.9"/><circle r="3.6" cx="278.8" cy="178.4"/><circle r="3.6" cx="275.7" cy="178.2"/><circle r="3.6" cx="282.8" cy="177.9"/><circle r="3.6" cx="273.5" cy="177.4"/><circle r="3.6" cx="280.7" cy="177.2"/><circle r="3.6" cx="277.3" cy="177"/><circle r="3.6" cx="286.4" cy="176.8"/><circle r="3.6" cx="269.2" cy="176.2"/><circle r="3.6" cx="278.5" cy="176"/><circle r="3.6" cx="274.9" cy="175.8"/><circle r="3.6" cx="282.7" cy="175.5"/><circle r="3.6" cx="272.4" cy="175.3"/><circle r="3.6" cx="280.5" cy="174.9"/><circle r="3.6" cx="276.8" cy="174.7"/><circle r="3.6" cx="286.2" cy="174.4"/><circle r="3.6" cx="270.5" cy="174.2"/><circle r="3.6" cx="279.5" cy="173.9"/><circle r="3.6" cx="275.7" cy="173.7"/><circle r="3.6" cx="284.6" cy="173.4"/><circle r="3.6" cx="273.4" cy="173.2"/><circle r="3.6" cx="281.9" cy="172.8"/><circle r="3.6" cx="277.7" cy="172.6"/><circle r="3.6" cx="289.6" cy="172.4"/><circle r="3.6" cx="265.6" cy="172.2"/><circle r="3.6" cx="278" cy="171.9"/><circle r="3.6" cx="273.7" cy="171.7"/><circle r="3.6" cx="282.5" cy="171.5"/><circle r="3.6" cx="270.6" cy="171.2"/><circle r="3.6" cx="280.1" cy="170.9"/><circle r="3.6" cx="276" cy="170.7"/><circle r="3.6" cx="285.8" cy="170.6"/><circle r="3.6" cx="268.4" cy="170.3"/><circle r="3.6" cx="279" cy="170.1"/><circle r="3.6" cx="274.8" cy="169.8"/><circle r="3.6" cx="284.1" cy="169.7"/><circle r="3.6" cx="272" cy="169.3"/><circle r="3.6" cx="281.3" cy="169.2"/><circle r="3.6" cx="277" cy="169"/><circle r="3.6" cx="288.3" cy="168.7"/><circle r="3.6" cx="266.7" cy="168.4"/><circle r="3.6" cx="278.5" cy="168.2"/><circle r="3.6" cx="274.1" cy="168"/><circle r="3.6" cx="283.5" cy="167.8"/><circle r="3.6" cx="271.1" cy="167.5"/><circle r="3.6" cx="280.8" cy="167.2"/><circle r="3.6" cx="276.4" cy="167"/><circle r="3.6" cx="287.3" cy="166.9"/><circle r="3.6" cx="269.1" cy="166.5"/><circle r="3.6" cx="279.7" cy="166.3"/><circle r="3.6" cx="275.3" cy="166"/><circle r="3.6" cx="285.3" cy="165.8"/><circle r="3.6" cx="272.5" cy="165.7"/><circle r="3.6" cx="282.2" cy="165.4"/><circle r="3.6" cx="277.5" cy="165.2"/><circle r="3.6" cx="290.5" cy="164.9"/><circle r="3.6" cx="265.2" cy="164.8"/><circle r="3.6" cx="278.3" cy="164.5"/><circle r="3.6" cx="273.5" cy="164.3"/><circle r="3.6" cx="283.4" cy="164.1"/><circle r="3.6" cx="270.3" cy="163.8"/><circle r="3.6" cx="280.6" cy="163.7"/><circle r="3.6" cx="276.1" cy="163.5"/><circle r="3.6" cx="287.2" cy="163.3"/><circle r="3.6" cx="268" cy="163.1"/><circle r="3.6" cx="279.4" cy="162.8"/><circle r="3.6" cx="274.8" cy="162.6"/><circle r="3.6" cx="285.2" cy="162.3"/><circle r="3.6" cx="271.9" cy="162.2"/><circle r="3.6" cx="282.1" cy="161.9"/><circle r="3.6" cx="277.2" cy="161.7"/><circle r="3.6" cx="290.2" cy="161.4"/><circle r="3.6" cx="266.4" cy="161.3"/><circle r="3.6" cx="278.9" cy="161.1"/><circle r="3.6" cx="274" cy="160.8"/><circle r="3.6" cx="284.5" cy="160.6"/><circle r="3.6" cx="270.8" cy="160.4"/><circle r="3.6" cx="281.5" cy="160.3"/><circle r="3.6" cx="276.6" cy="160"/><circle r="3.6" cx="288.9" cy="159.8"/><circle r="3.6" cx="268.7" cy="159.6"/><circle r="3.6" cx="280.2" cy="159.4"/><circle r="3.6" cx="275.3" cy="159.2"/><circle r="3.6" cx="286.6" cy="159"/><circle r="3.6" cx="272.4" cy="158.8"/><circle r="3.6" cx="283" cy="158.7"/><circle r="3.6" cx="277.8" cy="158.5"/><circle r="3.6" cx="293.1" cy="158.3"/><circle r="3.6" cx="262.3" cy="158"/><circle r="3.6" cx="278" cy="157.9"/><circle r="3.6" cx="272.6" cy="157.6"/><circle r="3.6" cx="283.4" cy="157.4"/><circle r="3.6" cx="268.9" cy="157.3"/><circle r="3.6" cx="280.5" cy="157"/><circle r="3.6" cx="275.5" cy="156.9"/><circle r="3.6" cx="287.3" cy="156.6"/><circle r="3.6" cx="266.2" cy="156.5"/><circle r="3.6" cx="279.2" cy="156.2"/><circle r="3.6" cx="274.1" cy="156"/><circle r="3.6" cx="285.3" cy="155.9"/><circle r="3.6" cx="270.8" cy="155.7"/><circle r="3.6" cx="281.9" cy="155.4"/><circle r="3.6" cx="276.8" cy="155.3"/><circle r="3.6" cx="290.1" cy="155.1"/><circle r="3.6" cx="264.3" cy="154.9"/><circle r="3.6" cx="278.6" cy="154.7"/><circle r="3.6" cx="273.2" cy="154.5"/><circle r="3.6" cx="284.5" cy="154.2"/><circle r="3.6" cx="269.6" cy="154.1"/><circle r="3.6" cx="281.3" cy="153.9"/><circle r="3.6" cx="276.1" cy="153.6"/><circle r="3.6" cx="288.9" cy="153.4"/><circle r="3.6" cx="267.2" cy="153.2"/><circle r="3.6" cx="279.9" cy="153.1"/><circle r="3.6" cx="274.7" cy="152.9"/><circle r="3.6" cx="286.6" cy="152.6"/><circle r="3.6" cx="271.4" cy="152.5"/><circle r="3.6" cx="282.9" cy="152.3"/><circle r="3.6" cx="277.4" cy="152.1"/><circle r="3.6" cx="292.5" cy="151.9"/><circle r="3.6" cx="262.7" cy="151.7"/><circle r="3.6" cx="278.3" cy="151.5"/><circle r="3.6" cx="272.7" cy="151.4"/><circle r="3.6" cx="284.2" cy="151.3"/><circle r="3.6" cx="268.9" cy="151.1"/><circle r="3.6" cx="281" cy="150.8"/><circle r="3.6" cx="275.7" cy="150.7"/><circle r="3.6" cx="288.5" cy="150.6"/><circle r="3.6" cx="266.3" cy="150.3"/><circle r="3.6" cx="279.6" cy="150.2"/><circle r="3.6" cx="274.2" cy="149.9"/><circle r="3.6" cx="286.2" cy="149.7"/><circle r="3.6" cx="270.9" cy="149.5"/><circle r="3.6" cx="282.5" cy="149.5"/><circle r="3.6" cx="277" cy="149.3"/><circle r="3.6" cx="291.6" cy="149.1"/><circle r="3.6" cx="264.7" cy="148.8"/><circle r="3.6" cx="278.9" cy="148.6"/><circle r="3.6" cx="273.5" cy="148.5"/><circle r="3.6" cx="285.1" cy="148.3"/><circle r="3.6" cx="269.9" cy="148.1"/><circle r="3.6" cx="281.7" cy="147.9"/><circle r="3.6" cx="276.4" cy="147.7"/><circle r="3.6" cx="289.8" cy="147.5"/><circle r="3.6" cx="267.7" cy="147.4"/><circle r="3.6" cx="280.3" cy="147.3"/><circle r="3.6" cx="275" cy="147"/><circle r="3.6" cx="287.1" cy="146.9"/><circle r="3.6" cx="271.9" cy="146.6"/><circle r="3.6" cx="283.3" cy="146.4"/><circle r="3.6" cx="277.7" cy="146.2"/><circle r="3.6" cx="293.6" cy="146.1"/><circle r="3.6" cx="262.3" cy="145.8"/><circle r="3.6" cx="278.1" cy="145.7"/><circle r="3.6" cx="272.6" cy="145.5"/><circle r="3.6" cx="283.8" cy="145.3"/><circle r="3.6" cx="268.8" cy="145.1"/><circle r="3.6" cx="280.7" cy="145"/><circle r="3.6" cx="275.6" cy="144.7"/><circle r="3.6" cx="287.8" cy="144.6"/><circle r="3.6" cx="266.4" cy="144.3"/><circle r="3.6" cx="279.4" cy="144.2"/><circle r="3.6" cx="274.2" cy="144"/><circle r="3.6" cx="285.5" cy="143.7"/><circle r="3.6" cx="271" cy="143.6"/><circle r="3.6" cx="282.1" cy="143.4"/><circle r="3.6" cx="276.9" cy="143.2"/><circle r="3.6" cx="290.4" cy="142.9"/><circle r="3.6" cx="264.9" cy="142.8"/><circle r="3.6" cx="278.7" cy="142.5"/><circle r="3.6" cx="273.5" cy="142.4"/><circle r="3.6" cx="284.6" cy="142.1"/><circle r="3.6" cx="270.1" cy="142"/><circle r="3.6" cx="281.4" cy="141.8"/><circle r="3.6" cx="276.3" cy="141.5"/><circle r="3.6" cx="288.9" cy="141.3"/><circle r="3.6" cx="267.8" cy="141.1"/><circle r="3.6" cx="280" cy="141"/><circle r="3.6" cx="274.9" cy="140.6"/><circle r="3.6" cx="286.6" cy="140.6"/><circle r="3.6" cx="271.8" cy="140.3"/><circle r="3.6" cx="283" cy="140"/><circle r="3.6" cx="277.5" cy="139.8"/><circle r="3.6" cx="292.8" cy="139.6"/><circle r="3.6" cx="263.5" cy="139.4"/><circle r="3.6" cx="278.4" cy="139.2"/><circle r="3.6" cx="272.9" cy="139"/><circle r="3.6" cx="284.4" cy="138.7"/><circle r="3.6" cx="269.2" cy="138.6"/><circle r="3.6" cx="281.2" cy="138.3"/><circle r="3.6" cx="275.9" cy="138.2"/><circle r="3.6" cx="288.9" cy="137.9"/><circle r="3.6" cx="266.5" cy="137.7"/><circle r="3.6" cx="279.8" cy="137.6"/><circle r="3.6" cx="274.4" cy="137.5"/><circle r="3.6" cx="286.6" cy="137.3"/><circle r="3.6" cx="271" cy="137.2"/><circle r="3.6" cx="282.8" cy="137.1"/><circle r="3.6" cx="277.2" cy="136.9"/><circle r="3.6" cx="292.4" cy="136.7"/><circle r="3.6" cx="264.8" cy="136.5"/><circle r="3.6" cx="279.1" cy="136.4"/><circle r="3.6" cx="273.6" cy="136.2"/><circle r="3.6" cx="285.6" cy="136"/><circle r="3.6" cx="270" cy="135.9"/><circle r="3.6" cx="282" cy="135.8"/><circle r="3.6" cx="276.5" cy="135.5"/><circle r="3.6" cx="290.5" cy="135.4"/><circle r="3.6" cx="267.8" cy="135.2"/><circle r="3.6" cx="280.5" cy="135.1"/><circle r="3.6" cx="275.1" cy="134.9"/><circle r="3.6" cx="287.6" cy="134.7"/><circle r="3.6" cx="272" cy="134.6"/><circle r="3.6" cx="283.5" cy="134.4"/><circle r="3.6" cx="277.8" cy="134.3"/><circle r="3.6" cx="294.4" cy="134"/><circle r="3.6" cx="261.3" cy="133.8"/><circle r="3.6" cx="277.9" cy="133.6"/><circle r="3.6" cx="272.4" cy="133.6"/><circle r="3.6" cx="283.4" cy="133.3"/><circle r="3.6" cx="268.7" cy="133.1"/><circle r="3.6" cx="280.4" cy="133"/><circle r="3.6" cx="275.5" cy="132.7"/><circle r="3.6" cx="286.9" cy="132.5"/><circle r="3.6" cx="266.7" cy="132.3"/><circle r="3.6" cx="279.1" cy="132.1"/><circle r="3.6" cx="274.3" cy="131.9"/><circle r="3.6" cx="284.6" cy="131.6"/><circle r="3.6" cx="271.4" cy="131.5"/><circle r="3.6" cx="281.5" cy="131.4"/><circle r="3.6" cx="276.9" cy="131"/><circle r="3.6" cx="288.2" cy="130.8"/><circle r="3.6" cx="266.4" cy="130.6"/><circle r="3.6" cx="278.4" cy="130.4"/><circle r="3.6" cx="274.1" cy="130.2"/><circle r="3.6" cx="283" cy="129.8"/><circle r="3.6" cx="271.6" cy="129.5"/><circle r="3.6" cx="280.4" cy="129.5"/><circle r="3.6" cx="276.5" cy="129.2"/><circle r="3.6" cx="285.7" cy="128.8"/><circle r="3.6" cx="270.5" cy="128.5"/><circle r="3.6" cx="279.2" cy="128.2"/><circle r="3.6" cx="275.8" cy="128"/><circle r="3.6" cx="283.4" cy="127.8"/><circle r="3.6" cx="273.8" cy="127.5"/><circle r="3.6" cx="280.8" cy="126.9"/><circle r="3.6" cx="277.6" cy="126.7"/><circle r="3.6" cx="286" cy="126.4"/><circle r="3.6" cx="269.8" cy="125.9"/><circle r="3.6" cx="278.1" cy="125.5"/><circle r="3.6" cx="275.3" cy="125.2"/><circle r="3.6" cx="280.8" cy="124.7"/><circle r="3.6" cx="273.8" cy="124.3"/><circle r="3.6" cx="279.2" cy="124"/><circle r="3.6" cx="277" cy="123.7"/><circle r="3.6" cx="281.9" cy="122.9"/><circle r="3.6" cx="273.6" cy="122.6"/><circle r="3.6" cx="278.5" cy="122.1"/><circle r="3.6" cx="276.7" cy="121.5"/><circle r="3.6" cx="280.2" cy="120.7"/><circle r="3.6" cx="276" cy="120.3"/><circle r="3.6" cx="278.9" cy="119"/><circle r="3.6" cx="277.7" cy="118.3"/><circle r="3.6" cx="280.3" cy="117.4"/><circle r="3.6" cx="276.1" cy="115.6"/><circle r="3.6" cx="278" cy="113.3"/><circle r="3.6" cx="277.5" cy="112.2"/><circle r="3.6" cx="278.1" cy="107"/>
<circle r="3.6" cx="320.6" cy="216"/><circle r="3.6" cx="320.4" cy="208.1"/><circle r="3.6" cx="321" cy="202"/><circle r="3.6" cx="319.8" cy="199.6"/><circle r="3.6" cx="320.9" cy="197.8"/><circle r="3.6" cx="320.3" cy="194.7"/><circle r="3.6" cx="322.1" cy="193.1"/><circle r="3.6" cx="318.5" cy="192.3"/><circle r="3.6" cx="320.9" cy="190.5"/><circle r="3.6" cx="319.7" cy="190.1"/><circle r="3.6" cx="322.4" cy="188.6"/><circle r="3.6" cx="318.7" cy="187.8"/><circle r="3.6" cx="321.7" cy="187"/><circle r="3.6" cx="320.3" cy="186.5"/><circle r="3.6" cx="324.3" cy="185.1"/><circle r="3.6" cx="316.3" cy="184.6"/><circle r="3.6" cx="320.8" cy="184"/><circle r="3.6" cx="319" cy="183.3"/><circle r="3.6" cx="322.8" cy="182.5"/><circle r="3.6" cx="317.6" cy="182"/><circle r="3.6" cx="321.8" cy="181.3"/><circle r="3.6" cx="319.9" cy="180.8"/><circle r="3.6" cx="324.7" cy="180.4"/><circle r="3.6" cx="316.4" cy="179.7"/><circle r="3.6" cx="321.4" cy="178.9"/><circle r="3.6" cx="319.2" cy="178.3"/><circle r="3.6" cx="324.1" cy="177.9"/><circle r="3.6" cx="317.8" cy="177.5"/><circle r="3.6" cx="322.7" cy="176.8"/><circle r="3.6" cx="320.3" cy="176.3"/><circle r="3.6" cx="326.8" cy="176.1"/><circle r="3.6" cx="313.7" cy="175.5"/><circle r="3.6" cx="320.7" cy="174.9"/><circle r="3.6" cx="318.2" cy="174.5"/><circle r="3.6" cx="323.4" cy="174.2"/><circle r="3.6" cx="316.4" cy="173.7"/><circle r="3.6" cx="322" cy="173.1"/><circle r="3.6" cx="319.6" cy="172.4"/><circle r="3.6" cx="325.4" cy="172"/><circle r="3.6" cx="315.2" cy="171.7"/><circle r="3.6" cx="321.3" cy="171.2"/><circle r="3.6" cx="318.9" cy="170.8"/><circle r="3.6" cx="324.4" cy="170.2"/><circle r="3.6" cx="317.3" cy="169.8"/><circle r="3.6" cx="322.7" cy="169.4"/><circle r="3.6" cx="320.2" cy="168.9"/><circle r="3.6" cx="326.9" cy="168.4"/><circle r="3.6" cx="314.2" cy="167.8"/><circle r="3.6" cx="321.1" cy="167.5"/><circle r="3.6" cx="318.4" cy="166.9"/><circle r="3.6" cx="324" cy="166.5"/><circle r="3.6" cx="316.6" cy="165.9"/><circle r="3.6" cx="322.4" cy="165.6"/><circle r="3.6" cx="319.8" cy="165.1"/><circle r="3.6" cx="326.4" cy="164.9"/><circle r="3.6" cx="315.4" cy="164.2"/><circle r="3.6" cx="321.7" cy="163.7"/><circle r="3.6" cx="319.1" cy="163.6"/><circle r="3.6" cx="325.2" cy="162.9"/><circle r="3.6" cx="317.5" cy="162.7"/><circle r="3.6" cx="323.3" cy="162.1"/><circle r="3.6" cx="320.4" cy="161.9"/><circle r="3.6" cx="328.5" cy="161.5"/><circle r="3.6" cx="312.3" cy="161"/><circle r="3.6" cx="320.7" cy="160.3"/><circle r="3.6" cx="317.8" cy="159.9"/><circle r="3.6" cx="323.6" cy="159.6"/><circle r="3.6" cx="315.8" cy="159.1"/><circle r="3.6" cx="322" cy="158.9"/><circle r="3.6" cx="319.3" cy="158.3"/><circle r="3.6" cx="325.7" cy="157.9"/><circle r="3.6" cx="314.4" cy="157.3"/><circle r="3.6" cx="321.3" cy="157.1"/><circle r="3.6" cx="318.6" cy="156.6"/><circle r="3.6" cx="324.6" cy="156.3"/><circle r="3.6" cx="316.9" cy="155.6"/><circle r="3.6" cx="322.8" cy="155.2"/><circle r="3.6" cx="320" cy="154.8"/><circle r="3.6" cx="327.2" cy="154.6"/><circle r="3.6" cx="313.6" cy="153.9"/><circle r="3.6" cx="321" cy="153.7"/><circle r="3.6" cx="318.2" cy="153.2"/><circle r="3.6" cx="324" cy="152.8"/><circle r="3.6" cx="316.4" cy="152.5"/><circle r="3.6" cx="322.4" cy="151.7"/><circle r="3.6" cx="319.7" cy="151.4"/><circle r="3.6" cx="326.2" cy="151.2"/><circle r="3.6" cx="315.4" cy="150.5"/><circle r="3.6" cx="321.6" cy="150.3"/><circle r="3.6" cx="319.1" cy="149.7"/><circle r="3.6" cx="324.8" cy="149.1"/><circle r="3.6" cx="317.6" cy="148.7"/><circle r="3.6" cx="323" cy="148.4"/><circle r="3.6" cx="320.4" cy="147.7"/><circle r="3.6" cx="327.6" cy="147.4"/><circle r="3.6" cx="313.6" cy="146.9"/><circle r="3.6" cx="320.8" cy="146.5"/><circle r="3.6" cx="318.2" cy="146"/><circle r="3.6" cx="323.6" cy="145.1"/><circle r="3.6" cx="316.4" cy="144.8"/><circle r="3.6" cx="322.1" cy="144.3"/><circle r="3.6" cx="319.6" cy="143.7"/><circle r="3.6" cx="325.7" cy="143.4"/><circle r="3.6" cx="315.1" cy="143"/><circle r="3.6" cx="321.5" cy="142.4"/><circle r="3.6" cx="318.9" cy="142.1"/><circle r="3.6" cx="324.7" cy="141.7"/><circle r="3.6" cx="317.2" cy="141.4"/><circle r="3.6" cx="322.9" cy="140.9"/><circle r="3.6" cx="320.2" cy="140.6"/><circle r="3.6" cx="327.3" cy="139.9"/><circle r="3.6" cx="314.4" cy="139.7"/><circle r="3.6" cx="321.1" cy="139.1"/><circle r="3.6" cx="318.6" cy="138.7"/><circle r="3.6" cx="324" cy="138.3"/><circle r="3.6" cx="317.1" cy="137.9"/><circle r="3.6" cx="322.3" cy="137.6"/><circle r="3.6" cx="320" cy="136.8"/><circle r="3.6" cx="325.7" cy="136.6"/><circle r="3.6" cx="316.5" cy="136"/><circle r="3.6" cx="321.5" cy="135.1"/><circle r="3.6" cx="319.5" cy="134.8"/><circle r="3.6" cx="324" cy="134.2"/><circle r="3.6" cx="318.6" cy="133.4"/><circle r="3.6" cx="322.4" cy="133"/><circle r="3.6" cx="320.6" cy="132.2"/><circle r="3.6" cx="325.4" cy="131.5"/><circle r="3.6" cx="316.2" cy="130.5"/><circle r="3.6" cx="320.6" cy="130.1"/><circle r="3.6" cx="319.3" cy="129"/><circle r="3.6" cx="321.7" cy="127.4"/><circle r="3.6" cx="318.9" cy="126.5"/><circle r="3.6" cx="321" cy="125.2"/><circle r="3.6" cx="320.3" cy="123.8"/><circle r="3.6" cx="321.6" cy="122.3"/><circle r="3.6" cx="320" cy="117.4"/><circle r="3.6" cx="320.7" cy="112.7"/><circle r="3.6" cx="320.5" cy="107.3"/>
<circle r="3.6" cx="363.3" cy="209.8"/><circle r="3.6" cx="363" cy="203"/><circle r="3.6" cx="363.9" cy="199.3"/><circle r="3.6" cx="362.1" cy="198.2"/><circle r="3.6" cx="363.7" cy="195.8"/><circle r="3.6" cx="362.8" cy="194.7"/><circle r="3.6" cx="365.5" cy="193"/><circle r="3.6" cx="360.3" cy="192.3"/><circle r="3.6" cx="363.6" cy="191"/><circle r="3.6" cx="362.1" cy="190.7"/><circle r="3.6" cx="365.6" cy="190"/><circle r="3.6" cx="360.8" cy="189.1"/><circle r="3.6" cx="364.8" cy="188.2"/><circle r="3.6" cx="362.8" cy="187.7"/><circle r="3.6" cx="368.3" cy="186.9"/><circle r="3.6" cx="357.3" cy="186.3"/><circle r="3.6" cx="363.6" cy="185.8"/><circle r="3.6" cx="361.2" cy="185.7"/><circle r="3.6" cx="366.3" cy="185"/><circle r="3.6" cx="359.2" cy="184.5"/><circle r="3.6" cx="364.9" cy="184"/><circle r="3.6" cx="362.3" cy="183.8"/><circle r="3.6" cx="368.9" cy="183.2"/><circle r="3.6" cx="357.6" cy="183"/><circle r="3.6" cx="364.3" cy="182.2"/><circle r="3.6" cx="361.4" cy="181.9"/><circle r="3.6" cx="368.1" cy="181.6"/><circle r="3.6" cx="359.5" cy="181.2"/><circle r="3.6" cx="366.2" cy="180.6"/><circle r="3.6" cx="362.9" cy="180.3"/><circle r="3.6" cx="372.2" cy="179.9"/><circle r="3.6" cx="353.4" cy="179.3"/><circle r="3.6" cx="363.5" cy="179"/><circle r="3.6" cx="359.8" cy="178.8"/><circle r="3.6" cx="367.4" cy="178.6"/><circle r="3.6" cx="357.1" cy="178.1"/><circle r="3.6" cx="365.4" cy="177.7"/><circle r="3.6" cx="361.7" cy="177.5"/><circle r="3.6" cx="370.7" cy="177.2"/><circle r="3.6" cx="354.7" cy="176.8"/><circle r="3.6" cx="364.5" cy="176.4"/><circle r="3.6" cx="360.5" cy="176.3"/><circle r="3.6" cx="369.5" cy="176"/><circle r="3.6" cx="357.8" cy="175.7"/><circle r="3.6" cx="366.9" cy="175.4"/><circle r="3.6" cx="362.5" cy="175"/><circle r="3.6" cx="374.3" cy="174.7"/><circle r="3.6" cx="352.1" cy="174.4"/><circle r="3.6" cx="364.1" cy="174.2"/><circle r="3.6" cx="359.4" cy="173.9"/><circle r="3.6" cx="369.5" cy="173.6"/><circle r="3.6" cx="356.2" cy="173.5"/><circle r="3.6" cx="366.6" cy="173.1"/><circle r="3.6" cx="361.8" cy="172.8"/><circle r="3.6" cx="374.1" cy="172.5"/><circle r="3.6" cx="353.7" cy="172.4"/><circle r="3.6" cx="365.5" cy="172.1"/><circle r="3.6" cx="360.5" cy="172"/><circle r="3.6" cx="372.2" cy="171.6"/><circle r="3.6" cx="357.3" cy="171.5"/><circle r="3.6" cx="368.6" cy="171.2"/><circle r="3.6" cx="363" cy="171.1"/><circle r="3.6" cx="378.9" cy="170.8"/><circle r="3.6" cx="346.7" cy="170.5"/><circle r="3.6" cx="363.5" cy="170.4"/><circle r="3.6" cx="357.6" cy="170.1"/><circle r="3.6" cx="369.6" cy="169.9"/><circle r="3.6" cx="353.3" cy="169.7"/><circle r="3.6" cx="366.3" cy="169.5"/><circle r="3.6" cx="360.6" cy="169.2"/><circle r="3.6" cx="374.2" cy="169.1"/><circle r="3.6" cx="350.1" cy="168.9"/><circle r="3.6" cx="364.9" cy="168.6"/><circle r="3.6" cx="358.9" cy="168.4"/><circle r="3.6" cx="372.1" cy="168.2"/><circle r="3.6" cx="355" cy="168"/><circle r="3.6" cx="368.2" cy="167.8"/><circle r="3.6" cx="362" cy="167.6"/><circle r="3.6" cx="378.3" cy="167.5"/><circle r="3.6" cx="347.1" cy="167.3"/><circle r="3.6" cx="364.2" cy="167.1"/><circle r="3.6" cx="357.7" cy="166.8"/><circle r="3.6" cx="371.5" cy="166.7"/><circle r="3.6" cx="353.3" cy="166.6"/><circle r="3.6" cx="367.6" cy="166.3"/><circle r="3.6" cx="361.1" cy="166.1"/><circle r="3.6" cx="377.2" cy="166"/><circle r="3.6" cx="350.1" cy="165.7"/><circle r="3.6" cx="365.9" cy="165.7"/><circle r="3.6" cx="359.3" cy="165.4"/><circle r="3.6" cx="374.4" cy="165.2"/><circle r="3.6" cx="355.2" cy="165.1"/><circle r="3.6" cx="369.8" cy="164.9"/><circle r="3.6" cx="362.7" cy="164.8"/><circle r="3.6" cx="382.4" cy="164.6"/><circle r="3.6" cx="344.1" cy="164.3"/><circle r="3.6" cx="363.9" cy="164.1"/><circle r="3.6" cx="356.7" cy="164"/><circle r="3.6" cx="371.6" cy="163.9"/><circle r="3.6" cx="351.7" cy="163.7"/><circle r="3.6" cx="367.5" cy="163.5"/><circle r="3.6" cx="360.5" cy="163.4"/><circle r="3.6" cx="377.4" cy="163.2"/><circle r="3.6" cx="348.2" cy="163"/><circle r="3.6" cx="365.7" cy="162.9"/><circle r="3.6" cx="358.6" cy="162.7"/><circle r="3.6" cx="374.5" cy="162.6"/><circle r="3.6" cx="354" cy="162.4"/><circle r="3.6" cx="369.7" cy="162.2"/><circle r="3.6" cx="362.2" cy="162.1"/><circle r="3.6" cx="382.1" cy="162"/><circle r="3.6" cx="345.6" cy="161.7"/><circle r="3.6" cx="364.8" cy="161.5"/><circle r="3.6" cx="357.4" cy="161.4"/><circle r="3.6" cx="373.4" cy="161.2"/><circle r="3.6" cx="352.5" cy="161.1"/><circle r="3.6" cx="368.7" cy="160.9"/><circle r="3.6" cx="361.3" cy="160.7"/><circle r="3.6" cx="380.2" cy="160.6"/><circle r="3.6" cx="349.2" cy="160.4"/><circle r="3.6" cx="366.8" cy="160.3"/><circle r="3.6" cx="359.3" cy="160.1"/><circle r="3.6" cx="376.6" cy="160"/><circle r="3.6" cx="354.9" cy="159.8"/><circle r="3.6" cx="371.2" cy="159.6"/><circle r="3.6" cx="363.1" cy="159.5"/><circle r="3.6" cx="386.6" cy="159.3"/><circle r="3.6" cx="339.3" cy="159.1"/><circle r="3.6" cx="363.4" cy="158.9"/><circle r="3.6" cx="355.2" cy="158.8"/><circle r="3.6" cx="371.8" cy="158.6"/><circle r="3.6" cx="349.4" cy="158.5"/><circle r="3.6" cx="367.3" cy="158.3"/><circle r="3.6" cx="359.6" cy="158.2"/><circle r="3.6" cx="377.8" cy="158"/><circle r="3.6" cx="345.3" cy="157.9"/><circle r="3.6" cx="365.3" cy="157.8"/><circle r="3.6" cx="357.4" cy="157.6"/><circle r="3.6" cx="374.7" cy="157.4"/><circle r="3.6" cx="352.3" cy="157.3"/><circle r="3.6" cx="369.5" cy="157.1"/><circle r="3.6" cx="361.5" cy="157"/><circle r="3.6" cx="382.2" cy="156.8"/><circle r="3.6" cx="342.2" cy="156.6"/><circle r="3.6" cx="364.4" cy="156.6"/><circle r="3.6" cx="356.1" cy="156.3"/><circle r="3.6" cx="373.5" cy="156.2"/><circle r="3.6" cx="350.5" cy="156.1"/><circle r="3.6" cx="368.5" cy="155.9"/><circle r="3.6" cx="360.5" cy="155.8"/><circle r="3.6" cx="380.3" cy="155.7"/><circle r="3.6" cx="346.8" cy="155.5"/><circle r="3.6" cx="366.4" cy="155.4"/><circle r="3.6" cx="358.3" cy="155.2"/><circle r="3.6" cx="376.7" cy="155"/><circle r="3.6" cx="353.3" cy="154.9"/><circle r="3.6" cx="371" cy="154.7"/><circle r="3.6" cx="362.5" cy="154.5"/><circle r="3.6" cx="385.9" cy="154.5"/><circle r="3.6" cx="339.7" cy="154.3"/><circle r="3.6" cx="363.9" cy="154.2"/><circle r="3.6" cx="355.2" cy="154"/><circle r="3.6" cx="373.1" cy="153.8"/><circle r="3.6" cx="349.2" cy="153.7"/><circle r="3.6" cx="368.1" cy="153.6"/><circle r="3.6" cx="359.9" cy="153.5"/><circle r="3.6" cx="379.8" cy="153.3"/><circle r="3.6" cx="345.2" cy="153.1"/><circle r="3.6" cx="366" cy="153"/><circle r="3.6" cx="357.6" cy="152.9"/><circle r="3.6" cx="376.3" cy="152.7"/><circle r="3.6" cx="352.3" cy="152.6"/><circle r="3.6" cx="370.6" cy="152.5"/><circle r="3.6" cx="361.9" cy="152.3"/><circle r="3.6" cx="384.9" cy="152.1"/><circle r="3.6" cx="342.4" cy="152"/><circle r="3.6" cx="364.9" cy="151.8"/><circle r="3.6" cx="356.3" cy="151.8"/><circle r="3.6" cx="374.8" cy="151.7"/><circle r="3.6" cx="350.6" cy="151.5"/><circle r="3.6" cx="369.4" cy="151.4"/><circle r="3.6" cx="360.9" cy="151.1"/><circle r="3.6" cx="382.4" cy="151.1"/><circle r="3.6" cx="346.9" cy="150.9"/><circle r="3.6" cx="367.1" cy="150.8"/><circle r="3.6" cx="358.6" cy="150.7"/><circle r="3.6" cx="378.3" cy="150.5"/><circle r="3.6" cx="353.5" cy="150.3"/><circle r="3.6" cx="372" cy="150.2"/><circle r="3.6" cx="362.9" cy="150"/><circle r="3.6" cx="388.9" cy="149.9"/><circle r="3.6" cx="337.7" cy="149.8"/><circle r="3.6" cx="363.7" cy="149.6"/><circle r="3.6" cx="354.6" cy="149.5"/><circle r="3.6" cx="373.1" cy="149.4"/><circle r="3.6" cx="348.3" cy="149.3"/><circle r="3.6" cx="368" cy="149.1"/><circle r="3.6" cx="359.5" cy="149"/><circle r="3.6" cx="379.8" cy="148.8"/><circle r="3.6" cx="344.1" cy="148.7"/><circle r="3.6" cx="365.7" cy="148.6"/><circle r="3.6" cx="357.1" cy="148.4"/><circle r="3.6" cx="376.1" cy="148.3"/><circle r="3.6" cx="351.7" cy="148.1"/><circle r="3.6" cx="370.4" cy="148.1"/><circle r="3.6" cx="361.6" cy="147.8"/><circle r="3.6" cx="384.4" cy="147.8"/><circle r="3.6" cx="341.5" cy="147.6"/><circle r="3.6" cx="364.7" cy="147.5"/><circle r="3.6" cx="355.9" cy="147.4"/><circle r="3.6" cx="374.5" cy="147.2"/><circle r="3.6" cx="350.1" cy="147.1"/><circle r="3.6" cx="369.1" cy="147"/><circle r="3.6" cx="360.6" cy="146.9"/><circle r="3.6" cx="381.7" cy="146.7"/><circle r="3.6" cx="346.5" cy="146.6"/><circle r="3.6" cx="366.8" cy="146.4"/><circle r="3.6" cx="358.4" cy="146.2"/><circle r="3.6" cx="377.6" cy="146.1"/><circle r="3.6" cx="353.3" cy="146"/><circle r="3.6" cx="371.6" cy="145.9"/><circle r="3.6" cx="362.7" cy="145.7"/><circle r="3.6" cx="387.4" cy="145.6"/><circle r="3.6" cx="340.2" cy="145.5"/><circle r="3.6" cx="364.2" cy="145.4"/><circle r="3.6" cx="355.4" cy="145.2"/><circle r="3.6" cx="373.6" cy="145"/><circle r="3.6" cx="349.6" cy="144.9"/><circle r="3.6" cx="368.4" cy="144.7"/><circle r="3.6" cx="360.1" cy="144.5"/><circle r="3.6" cx="380.2" cy="144.4"/><circle r="3.6" cx="345.9" cy="144.3"/><circle r="3.6" cx="366.2" cy="144.1"/><circle r="3.6" cx="357.9" cy="143.9"/><circle r="3.6" cx="376.5" cy="143.8"/><circle r="3.6" cx="352.8" cy="143.8"/><circle r="3.6" cx="370.7" cy="143.5"/><circle r="3.6" cx="362.2" cy="143.4"/><circle r="3.6" cx="385" cy="143.3"/><circle r="3.6" cx="343.8" cy="143.1"/><circle r="3.6" cx="365.1" cy="142.9"/><circle r="3.6" cx="356.8" cy="142.8"/><circle r="3.6" cx="374.7" cy="142.6"/><circle r="3.6" cx="351.5" cy="142.5"/><circle r="3.6" cx="369.4" cy="142.4"/><circle r="3.6" cx="361.2" cy="142.2"/><circle r="3.6" cx="382" cy="142"/><circle r="3.6" cx="348.3" cy="141.9"/><circle r="3.6" cx="367.2" cy="141.7"/><circle r="3.6" cx="359.2" cy="141.5"/><circle r="3.6" cx="377.8" cy="141.4"/><circle r="3.6" cx="354.5" cy="141.3"/><circle r="3.6" cx="371.8" cy="141.1"/><circle r="3.6" cx="363.2" cy="141"/><circle r="3.6" cx="388.4" cy="140.8"/><circle r="3.6" cx="337.9" cy="140.8"/><circle r="3.6" cx="363.4" cy="140.5"/><circle r="3.6" cx="354.8" cy="140.4"/><circle r="3.6" cx="371.9" cy="140.2"/><circle r="3.6" cx="348.9" cy="140.2"/><circle r="3.6" cx="367.3" cy="139.9"/><circle r="3.6" cx="359.5" cy="139.8"/><circle r="3.6" cx="377.8" cy="139.7"/><circle r="3.6" cx="345" cy="139.5"/><circle r="3.6" cx="365.2" cy="139.3"/><circle r="3.6" cx="357.3" cy="139.2"/><circle r="3.6" cx="374.5" cy="139"/><circle r="3.6" cx="352.3" cy="138.8"/><circle r="3.6" cx="369.4" cy="138.7"/><circle r="3.6" cx="361.5" cy="138.5"/><circle r="3.6" cx="381.7" cy="138.5"/><circle r="3.6" cx="342.6" cy="138.2"/><circle r="3.6" cx="364.3" cy="138.1"/><circle r="3.6" cx="356.2" cy="138"/><circle r="3.6" cx="373" cy="137.9"/><circle r="3.6" cx="350.9" cy="137.6"/><circle r="3.6" cx="368.2" cy="137.5"/><circle r="3.6" cx="360.6" cy="137.3"/><circle r="3.6" cx="379.3" cy="137.2"/><circle r="3.6" cx="347.6" cy="137"/><circle r="3.6" cx="366.1" cy="136.9"/><circle r="3.6" cx="358.6" cy="136.7"/><circle r="3.6" cx="375.7" cy="136.5"/><circle r="3.6" cx="353.9" cy="136.4"/><circle r="3.6" cx="370.4" cy="136.2"/><circle r="3.6" cx="362.5" cy="136.1"/><circle r="3.6" cx="383.9" cy="136"/><circle r="3.6" cx="341.5" cy="135.8"/><circle r="3.6" cx="363.8" cy="135.6"/><circle r="3.6" cx="355.9" cy="135.4"/><circle r="3.6" cx="372.1" cy="135.3"/><circle r="3.6" cx="350.5" cy="135.1"/><circle r="3.6" cx="367.6" cy="134.9"/><circle r="3.6" cx="360.2" cy="134.8"/><circle r="3.6" cx="377.9" cy="134.7"/><circle r="3.6" cx="347.1" cy="134.5"/><circle r="3.6" cx="365.6" cy="134.3"/><circle r="3.6" cx="358.2" cy="134.1"/><circle r="3.6" cx="374.6" cy="133.9"/><circle r="3.6" cx="353.6" cy="133.8"/><circle r="3.6" cx="369.6" cy="133.6"/><circle r="3.6" cx="362.1" cy="133.5"/><circle r="3.6" cx="381.8" cy="133.4"/><circle r="3.6" cx="345.2" cy="133.2"/><circle r="3.6" cx="364.6" cy="133.1"/><circle r="3.6" cx="357.2" cy="132.8"/><circle r="3.6" cx="373" cy="132.6"/><circle r="3.6" cx="352.4" cy="132.5"/><circle r="3.6" cx="368.4" cy="132.4"/><circle r="3.6" cx="361.2" cy="132.2"/><circle r="3.6" cx="379.3" cy="132.1"/><circle r="3.6" cx="349.5" cy="131.9"/><circle r="3.6" cx="366.4" cy="131.7"/><circle r="3.6" cx="359.4" cy="131.5"/><circle r="3.6" cx="375.6" cy="131.3"/><circle r="3.6" cx="355.1" cy="131.2"/><circle r="3.6" cx="370.5" cy="131"/><circle r="3.6" cx="362.9" cy="130.8"/><circle r="3.6" cx="384.2" cy="130.7"/><circle r="3.6" cx="342" cy="130.5"/><circle r="3.6" cx="363.6" cy="130.3"/><circle r="3.6" cx="356.1" cy="130.1"/><circle r="3.6" cx="371.2" cy="129.9"/><circle r="3.6" cx="351" cy="129.8"/><circle r="3.6" cx="367" cy="129.5"/><circle r="3.6" cx="360.1" cy="129.4"/><circle r="3.6" cx="376.5" cy="129.3"/><circle r="3.6" cx="347.6" cy="129.1"/><circle r="3.6" cx="365.2" cy="128.8"/><circle r="3.6" cx="358.3" cy="128.7"/><circle r="3.6" cx="373.5" cy="128.6"/><circle r="3.6" cx="353.9" cy="128.4"/><circle r="3.6" cx="368.9" cy="128.2"/><circle r="3.6" cx="361.9" cy="128"/><circle r="3.6" cx="380" cy="127.7"/><circle r="3.6" cx="345.7" cy="127.7"/><circle r="3.6" cx="364.4" cy="127.5"/><circle r="3.6" cx="357.4" cy="127.3"/><circle r="3.6" cx="372.1" cy="127.2"/><circle r="3.6" cx="352.8" cy="127"/><circle r="3.6" cx="367.9" cy="126.7"/><circle r="3.6" cx="361.1" cy="126.5"/><circle r="3.6" cx="377.8" cy="126.4"/><circle r="3.6" cx="349.9" cy="126.3"/><circle r="3.6" cx="366" cy="126.1"/><circle r="3.6" cx="359.4" cy="126"/><circle r="3.6" cx="374.5" cy="125.7"/><circle r="3.6" cx="355.4" cy="125.6"/><circle r="3.6" cx="369.7" cy="125.4"/><circle r="3.6" cx="362.8" cy="125.3"/><circle r="3.6" cx="381.9" cy="125"/><circle r="3.6" cx="345.1" cy="124.9"/><circle r="3.6" cx="363.9" cy="124.7"/><circle r="3.6" cx="357.1" cy="124.5"/><circle r="3.6" cx="371.2" cy="124.4"/><circle r="3.6" cx="352.6" cy="124.2"/><circle r="3.6" cx="367.2" cy="124"/><circle r="3.6" cx="360.8" cy="123.9"/><circle r="3.6" cx="376.1" cy="123.6"/><circle r="3.6" cx="349.9" cy="123.5"/><circle r="3.6" cx="365.4" cy="123.3"/><circle r="3.6" cx="359.2" cy="123"/><circle r="3.6" cx="373.1" cy="122.9"/><circle r="3.6" cx="355.4" cy="122.7"/><circle r="3.6" cx="368.8" cy="122.6"/><circle r="3.6" cx="362.4" cy="122.3"/><circle r="3.6" cx="379.3" cy="122.2"/><circle r="3.6" cx="348.8" cy="121.9"/><circle r="3.6" cx="364.6" cy="121.7"/><circle r="3.6" cx="358.5" cy="121.5"/><circle r="3.6" cx="371.5" cy="121.3"/><circle r="3.6" cx="354.7" cy="121.1"/><circle r="3.6" cx="367.7" cy="121"/><circle r="3.6" cx="361.8" cy="120.7"/><circle r="3.6" cx="376.4" cy="120.4"/><circle r="3.6" cx="352.6" cy="120.4"/><circle r="3.6" cx="366" cy="120.1"/><circle r="3.6" cx="360.4" cy="120"/><circle r="3.6" cx="373.3" cy="119.7"/><circle r="3.6" cx="357.2" cy="119.4"/><circle r="3.6" cx="369" cy="119.3"/><circle r="3.6" cx="363.2" cy="118.9"/><circle r="3.6" cx="379.9" cy="118.8"/><circle r="3.6" cx="346.9" cy="118.5"/><circle r="3.6" cx="363.4" cy="118.5"/><circle r="3.6" cx="357.8" cy="118.2"/><circle r="3.6" cx="369" cy="117.8"/><circle r="3.6" cx="354.2" cy="117.6"/><circle r="3.6" cx="365.9" cy="117.4"/><circle r="3.6" cx="361" cy="117.2"/><circle r="3.6" cx="372.5" cy="116.9"/><circle r="3.6" cx="352.2" cy="116.7"/><circle r="3.6" cx="364.6" cy="116.5"/><circle r="3.6" cx="359.8" cy="116.2"/><circle r="3.6" cx="370.1" cy="115.9"/><circle r="3.6" cx="356.9" cy="115.7"/><circle r="3.6" cx="367" cy="115.4"/><circle r="3.6" cx="362.3" cy="115.1"/><circle r="3.6" cx="374" cy="114.8"/><circle r="3.6" cx="351.8" cy="114.5"/><circle r="3.6" cx="363.9" cy="114.3"/><circle r="3.6" cx="359.5" cy="113.9"/><circle r="3.6" cx="368.6" cy="113.6"/><circle r="3.6" cx="356.7" cy="113.6"/><circle r="3.6" cx="366" cy="113.1"/><circle r="3.6" cx="361.9" cy="112.8"/><circle r="3.6" cx="371.6" cy="112.5"/><circle r="3.6" cx="355.4" cy="112.3"/><circle r="3.6" cx="364.8" cy="111.8"/><circle r="3.6" cx="361.1" cy="111.5"/><circle r="3.6" cx="369.4" cy="111.3"/><circle r="3.6" cx="358.9" cy="111"/><circle r="3.6" cx="366.7" cy="110.7"/><circle r="3.6" cx="363" cy="110.3"/><circle r="3.6" cx="372.7" cy="109.9"/><circle r="3.6" cx="353.9" cy="109.6"/><circle r="3.6" cx="363.6" cy="109.3"/><circle r="3.6" cx="360.2" cy="108.8"/><circle r="3.6" cx="367" cy="108.5"/><circle r="3.6" cx="358.2" cy="108"/><circle r="3.6" cx="365" cy="107.5"/><circle r="3.6" cx="362.1" cy="107"/><circle r="3.6" cx="368.8" cy="106.5"/><circle r="3.6" cx="357.4" cy="106.3"/><circle r="3.6" cx="364.2" cy="105.7"/><circle r="3.6" cx="361.6" cy="105.2"/><circle r="3.6" cx="367.2" cy="104.9"/><circle r="3.6" cx="360.1" cy="104.3"/><circle r="3.6" cx="365.4" cy="103.9"/><circle r="3.6" cx="362.9" cy="103.3"/><circle r="3.6" cx="368.9" cy="102.7"/><circle r="3.6" cx="358" cy="102.4"/><circle r="3.6" cx="363.7" cy="101.9"/><circle r="3.6" cx="361.7" cy="101.1"/><circle r="3.6" cx="365.9" cy="100.7"/><circle r="3.6" cx="360.8" cy="99.5"/><circle r="3.6" cx="364.5" cy="98.9"/><circle r="3.6" cx="362.9" cy="98.5"/><circle r="3.6" cx="366.5" cy="97.5"/><circle r="3.6" cx="360.9" cy="96.1"/><circle r="3.6" cx="363.9" cy="96"/><circle r="3.6" cx="362.8" cy="94.1"/><circle r="3.6" cx="364.9" cy="93.2"/><circle r="3.6" cx="362.4" cy="92.1"/><circle r="3.6" cx="363.9" cy="88.9"/><circle r="3.6" cx="363.3" cy="86.8"/><circle r="3.6" cx="364.3" cy="84.1"/><circle r="3.6" cx="362.8" cy="76.8"/>
</g>
<g class="pt" filter="url(#so)" fill="#000" fill-opacity=".075" stroke="#000" stroke-opacity=".17" stroke-width="0.9">
<circle r="3.6" cx="277.9" cy="83.6"/><circle r="3.6" cx="277.6" cy="218.2"/><circle r="3.6" cx="320.6" cy="216.9"/><circle r="3.6" cx="363.6" cy="53.4"/><circle r="3.6" cx="363.5" cy="60.2"/><circle r="3.6" cx="363.8" cy="65.4"/><circle r="3.6" cx="362.8" cy="66"/><circle r="3.6" cx="363.5" cy="74.2"/><circle r="3.6" cx="363.8" cy="74.8"/><circle r="3.6" cx="363.3" cy="226"/><circle r="3.6" cx="363.1" cy="233.2"/>
</g></g>
<path d="M277.9 107.0V137.9M277.9 169.1V214.7M262.1 137.9H293.7V150.4L285.5 152.9L293.7 155.4V169.1H262.1V155.4L270.3 152.9L262.1 150.4ZM320.6 107.3V142.8M320.6 174.2V216.0M304.8 142.8H336.4V154.9L328.2 158.6L336.4 162.2V174.2H304.8V162.2L313.0 158.6L304.8 154.9ZM363.3 76.8V127.5M363.3 161.7V209.8M347.5 127.5H379.1V143.7L370.9 145.4L379.1 147.1V161.7H347.5V147.1L355.7 145.4L347.5 143.7Z" stroke="#000" stroke-width="2" fill="none" stroke-linejoin="miter"/>
<path d="M270.3 152.9H285.5M313.0 158.6H328.2M355.7 145.4H370.9" stroke="#000" stroke-width="4" fill="none"/>
<text class="st" x="321.55" y="16.2">***</text>
<text class="st" x="344.00" y="35.8">***</text>
<path d="M278.5 23.5V18.4Q278.5 16.2 280.7 16.2H361.7Q363.9 16.2 363.9 18.4V23.5M321.7 41.4V35.7Q321.7 33.5 323.9 33.5H361.7Q363.9 33.5 363.9 35.7V41.4" stroke="#222" stroke-width="1.25" fill="none"/>
</g>
<g>
<rect x="455.9" y="42.2" width="136.6" height="214.2" fill="#e6e6e6"/>
<path d="M455.9 230.60H592.5M455.9 198.08H592.5M455.9 165.56H592.5M455.9 133.04H592.5M455.9 100.52H592.5M455.9 68.00H592.5" stroke="#fff" stroke-width="0.85" fill="none"/>
<path d="M455.9 246.86H592.5M455.9 214.34H592.5M455.9 181.82H592.5M455.9 149.30H592.5M455.9 116.78H592.5M455.9 84.26H592.5M455.9 51.74H592.5M481.30 42.2V256.4M524.00 42.2V256.4M566.70 42.2V256.4" stroke="#fff" stroke-width="1.7" fill="none"/>
<path d="M450.3 246.86H455.9M450.3 214.34H455.9M450.3 181.82H455.9M450.3 149.30H455.9M450.3 116.78H455.9M450.3 84.26H455.9M450.3 51.74H455.9M481.30 256.4V261.7M524.00 256.4V261.7M566.70 256.4V261.7" stroke="#1a1a1a" stroke-width="1.8" fill="none"/>
<text class="yt" x="446.1" y="251.5">−3</text>
<text class="yt" x="446.1" y="219.0">−2</text>
<text class="yt" x="446.1" y="186.5">−1</text>
<text class="yt" x="446.1" y="154.0">0</text>
<text class="yt" x="446.1" y="121.4">1</text>
<text class="yt" x="446.1" y="88.9">2</text>
<text class="yt" x="446.1" y="56.4">3</text>
<text class="xt" x="481.3" y="277.0">HIV−</text>
<text class="xt" x="524.0" y="277.0">HIV+</text>
<text class="xt" x="524.0" y="293.3">ART−</text>
<text class="xt" x="566.7" y="277.0">HIV+</text>
<text class="xt" x="566.7" y="293.3">ART+</text>
<text class="ti" transform="translate(421.0 149.3) rotate(-90)">Ceramide C24:0</text>
<path d="M465.5 134.2H497.1V146.3L488.9 148.8L497.1 151.3V164.7H465.5V151.3L473.7 148.8L465.5 146.3ZM508.2 144.1H539.8V152.5L531.6 155.5L539.8 158.5V168.5H508.2V158.5L516.4 155.5L508.2 152.5ZM550.9 131.9H582.5V146.1L574.3 147.8L582.5 149.5V163.0H550.9V149.5L559.1 147.8L550.9 146.1Z" fill="#fff"/>
<clipPath id="cp2"><rect x="455.9" y="42.2" width="136.6" height="214.2"/></clipPath>
<g clip-path="url(#cp2)">
<g class="pt" filter="url(#sf)" fill="#000" fill-opacity=".10" stroke="#000" stroke-opacity=".09" stroke-width="0.9">
<circle r="3.6" cx="481.3" cy="204.3"/><circle r="3.6" cx="481" cy="196.8"/><circle r="3.6" cx="481.7" cy="195.2"/><circle r="3.6" cx="480.5" cy="192.1"/><circle r="3.6" cx="481.6" cy="189.5"/><circle r="3.6" cx="480.9" cy="188"/><circle r="3.6" cx="482.9" cy="186.7"/><circle r="3.6" cx="479.1" cy="185.6"/><circle r="3.6" cx="481.5" cy="184.9"/><circle r="3.6" cx="480.4" cy="183.6"/><circle r="3.6" cx="483" cy="182.7"/><circle r="3.6" cx="479.4" cy="182"/><circle r="3.6" cx="482.4" cy="181.3"/><circle r="3.6" cx="480.9" cy="180.1"/><circle r="3.6" cx="485" cy="179.6"/><circle r="3.6" cx="476.9" cy="179.2"/><circle r="3.6" cx="481.5" cy="178.6"/><circle r="3.6" cx="479.6" cy="177.9"/><circle r="3.6" cx="483.6" cy="177.3"/><circle r="3.6" cx="478.1" cy="176.6"/><circle r="3.6" cx="482.6" cy="176.4"/><circle r="3.6" cx="480.5" cy="175.8"/><circle r="3.6" cx="485.8" cy="175.1"/><circle r="3.6" cx="476.6" cy="174.6"/><circle r="3.6" cx="482.1" cy="174.3"/><circle r="3.6" cx="479.8" cy="174"/><circle r="3.6" cx="485.2" cy="173.4"/><circle r="3.6" cx="478.2" cy="173.2"/><circle r="3.6" cx="483.7" cy="172.6"/><circle r="3.6" cx="481" cy="172.4"/><circle r="3.6" cx="488.5" cy="171.9"/><circle r="3.6" cx="473.3" cy="171.4"/><circle r="3.6" cx="481.5" cy="171"/><circle r="3.6" cx="478.5" cy="170.7"/><circle r="3.6" cx="484.6" cy="170.3"/><circle r="3.6" cx="476.3" cy="170"/><circle r="3.6" cx="483" cy="169.7"/><circle r="3.6" cx="480" cy="169.4"/><circle r="3.6" cx="487.2" cy="168.9"/><circle r="3.6" cx="474.5" cy="168.7"/><circle r="3.6" cx="482.2" cy="168.4"/><circle r="3.6" cx="479.1" cy="168.2"/><circle r="3.6" cx="486.1" cy="167.6"/><circle r="3.6" cx="477.1" cy="167.4"/><circle r="3.6" cx="484" cy="167.2"/><circle r="3.6" cx="480.7" cy="167"/><circle r="3.6" cx="489.4" cy="166.4"/><circle r="3.6" cx="473.2" cy="166.4"/><circle r="3.6" cx="481.9" cy="166"/><circle r="3.6" cx="478.6" cy="165.6"/><circle r="3.6" cx="485.6" cy="165.5"/><circle r="3.6" cx="476.4" cy="165.2"/><circle r="3.6" cx="483.6" cy="164.8"/><circle r="3.6" cx="480.3" cy="164.4"/><circle r="3.6" cx="488.5" cy="164.2"/><circle r="3.6" cx="475" cy="163.8"/><circle r="3.6" cx="482.7" cy="163.6"/><circle r="3.6" cx="479.5" cy="163.2"/><circle r="3.6" cx="486.9" cy="162.7"/><circle r="3.6" cx="477.5" cy="162.6"/><circle r="3.6" cx="484.6" cy="162.3"/><circle r="3.6" cx="481.1" cy="161.9"/><circle r="3.6" cx="490.9" cy="161.6"/><circle r="3.6" cx="471.3" cy="161.1"/><circle r="3.6" cx="481.4" cy="160.8"/><circle r="3.6" cx="477.9" cy="160.7"/><circle r="3.6" cx="485" cy="160.3"/><circle r="3.6" cx="475.4" cy="159.9"/><circle r="3.6" cx="483.1" cy="159.7"/><circle r="3.6" cx="479.8" cy="159.3"/><circle r="3.6" cx="487.6" cy="159"/><circle r="3.6" cx="473.7" cy="158.8"/><circle r="3.6" cx="482.2" cy="158.5"/><circle r="3.6" cx="478.8" cy="158.2"/><circle r="3.6" cx="486.3" cy="157.9"/><circle r="3.6" cx="476.6" cy="157.5"/><circle r="3.6" cx="484.1" cy="157.1"/><circle r="3.6" cx="480.6" cy="157"/><circle r="3.6" cx="489.6" cy="156.7"/><circle r="3.6" cx="472.4" cy="156.4"/><circle r="3.6" cx="481.8" cy="156.1"/><circle r="3.6" cx="478.2" cy="155.7"/><circle r="3.6" cx="485.8" cy="155.6"/><circle r="3.6" cx="475.8" cy="155.2"/><circle r="3.6" cx="483.6" cy="154.8"/><circle r="3.6" cx="480.1" cy="154.6"/><circle r="3.6" cx="488.8" cy="154.4"/><circle r="3.6" cx="474.2" cy="154"/><circle r="3.6" cx="482.7" cy="153.7"/><circle r="3.6" cx="479.2" cy="153.6"/><circle r="3.6" cx="487.3" cy="153"/><circle r="3.6" cx="477" cy="152.8"/><circle r="3.6" cx="484.8" cy="152.6"/><circle r="3.6" cx="481" cy="152.3"/><circle r="3.6" cx="491.5" cy="152"/><circle r="3.6" cx="471.1" cy="151.9"/><circle r="3.6" cx="481.6" cy="151.4"/><circle r="3.6" cx="477.8" cy="151.1"/><circle r="3.6" cx="485.7" cy="150.8"/><circle r="3.6" cx="475.1" cy="150.7"/><circle r="3.6" cx="483.5" cy="150.4"/><circle r="3.6" cx="479.8" cy="150"/><circle r="3.6" cx="488.8" cy="149.7"/><circle r="3.6" cx="473.3" cy="149.6"/><circle r="3.6" cx="482.6" cy="149.2"/><circle r="3.6" cx="478.8" cy="149"/><circle r="3.6" cx="487.2" cy="148.7"/><circle r="3.6" cx="476.4" cy="148.5"/><circle r="3.6" cx="484.7" cy="148.1"/><circle r="3.6" cx="480.7" cy="147.9"/><circle r="3.6" cx="491.3" cy="147.6"/><circle r="3.6" cx="472" cy="147.3"/><circle r="3.6" cx="482.1" cy="147.1"/><circle r="3.6" cx="478.2" cy="146.8"/><circle r="3.6" cx="486.6" cy="146.6"/><circle r="3.6" cx="475.6" cy="146.3"/><circle r="3.6" cx="484.1" cy="146.1"/><circle r="3.6" cx="480.3" cy="145.8"/><circle r="3.6" cx="490.1" cy="145.6"/><circle r="3.6" cx="474" cy="145.3"/><circle r="3.6" cx="483.1" cy="145.2"/><circle r="3.6" cx="479.3" cy="144.8"/><circle r="3.6" cx="488.1" cy="144.6"/><circle r="3.6" cx="477" cy="144.3"/><circle r="3.6" cx="485.3" cy="143.9"/><circle r="3.6" cx="481.2" cy="143.9"/><circle r="3.6" cx="493" cy="143.4"/><circle r="3.6" cx="469.3" cy="143.1"/><circle r="3.6" cx="481.4" cy="142.9"/><circle r="3.6" cx="477.3" cy="142.7"/><circle r="3.6" cx="485.5" cy="142.5"/><circle r="3.6" cx="474.5" cy="142.3"/><circle r="3.6" cx="483.2" cy="141.9"/><circle r="3.6" cx="479.5" cy="141.6"/><circle r="3.6" cx="488.2" cy="141.2"/><circle r="3.6" cx="472.7" cy="141.1"/><circle r="3.6" cx="482.2" cy="140.8"/><circle r="3.6" cx="478.5" cy="140.5"/><circle r="3.6" cx="486.6" cy="140.2"/><circle r="3.6" cx="476.2" cy="139.9"/><circle r="3.6" cx="484.2" cy="139.7"/><circle r="3.6" cx="480.5" cy="139.5"/><circle r="3.6" cx="490" cy="139"/><circle r="3.6" cx="471.7" cy="138.8"/><circle r="3.6" cx="481.8" cy="138.4"/><circle r="3.6" cx="478" cy="138.4"/><circle r="3.6" cx="485.9" cy="138.1"/><circle r="3.6" cx="475.6" cy="137.6"/><circle r="3.6" cx="483.6" cy="137.4"/><circle r="3.6" cx="480.1" cy="137"/><circle r="3.6" cx="488.8" cy="136.9"/><circle r="3.6" cx="474" cy="136.5"/><circle r="3.6" cx="482.7" cy="136.2"/><circle r="3.6" cx="479.1" cy="136"/><circle r="3.6" cx="487.2" cy="135.5"/><circle r="3.6" cx="476.9" cy="135.4"/><circle r="3.6" cx="484.7" cy="134.9"/><circle r="3.6" cx="480.9" cy="134.7"/><circle r="3.6" cx="491.1" cy="134.4"/><circle r="3.6" cx="471.1" cy="134.2"/><circle r="3.6" cx="481.6" cy="133.9"/><circle r="3.6" cx="477.8" cy="133.4"/><circle r="3.6" cx="485.5" cy="133.4"/><circle r="3.6" cx="475.3" cy="133"/><circle r="3.6" cx="483.3" cy="132.8"/><circle r="3.6" cx="479.9" cy="132.6"/><circle r="3.6" cx="488.2" cy="132.2"/><circle r="3.6" cx="473.8" cy="132"/><circle r="3.6" cx="482.4" cy="131.7"/><circle r="3.6" cx="478.9" cy="131.5"/><circle r="3.6" cx="486.6" cy="131.2"/><circle r="3.6" cx="476.9" cy="130.8"/><circle r="3.6" cx="484.2" cy="130.7"/><circle r="3.6" cx="480.8" cy="130.2"/><circle r="3.6" cx="489.6" cy="129.9"/><circle r="3.6" cx="473.3" cy="129.7"/><circle r="3.6" cx="481.9" cy="129.4"/><circle r="3.6" cx="478.7" cy="129.2"/><circle r="3.6" cx="485.5" cy="128.6"/><circle r="3.6" cx="476.8" cy="128.3"/><circle r="3.6" cx="483.5" cy="128.2"/><circle r="3.6" cx="480.5" cy="127.8"/><circle r="3.6" cx="487.8" cy="127.4"/><circle r="3.6" cx="475.9" cy="127"/><circle r="3.6" cx="482.5" cy="126.6"/><circle r="3.6" cx="479.8" cy="126.1"/><circle r="3.6" cx="485.9" cy="125.8"/><circle r="3.6" cx="478.4" cy="125.4"/><circle r="3.6" cx="483.8" cy="125.1"/><circle r="3.6" cx="481.2" cy="124.6"/><circle r="3.6" cx="488.4" cy="124.3"/><circle r="3.6" cx="474.6" cy="123.7"/><circle r="3.6" cx="481.4" cy="123.2"/><circle r="3.6" cx="479.1" cy="122.9"/><circle r="3.6" cx="483.6" cy="122.4"/><circle r="3.6" cx="477.9" cy="122"/><circle r="3.6" cx="482.3" cy="121.5"/><circle r="3.6" cx="480.5" cy="120.6"/><circle r="3.6" cx="484.5" cy="120.1"/><circle r="3.6" cx="477.8" cy="119.5"/><circle r="3.6" cx="481.7" cy="118.6"/><circle r="3.6" cx="480.4" cy="117.7"/><circle r="3.6" cx="483.2" cy="117.3"/><circle r="3.6" cx="479.8" cy="116.3"/><circle r="3.6" cx="482.1" cy="115"/><circle r="3.6" cx="481.1" cy="114.1"/><circle r="3.6" cx="483.3" cy="112.5"/><circle r="3.6" cx="479.3" cy="111.9"/><circle r="3.6" cx="481.4" cy="110.5"/><circle r="3.6" cx="480.9" cy="108.4"/><circle r="3.6" cx="481.6" cy="104.2"/><circle r="3.6" cx="481.1" cy="97.6"/>
<circle r="3.6" cx="524" cy="199.1"/><circle r="3.6" cx="523.7" cy="192.4"/><circle r="3.6" cx="524.5" cy="189.2"/><circle r="3.6" cx="522.9" cy="186.6"/><circle r="3.6" cx="524.4" cy="184.7"/><circle r="3.6" cx="523.6" cy="183.4"/><circle r="3.6" cx="525.8" cy="182.5"/><circle r="3.6" cx="521.2" cy="181"/><circle r="3.6" cx="524.3" cy="179.9"/><circle r="3.6" cx="522.8" cy="179"/><circle r="3.6" cx="526.3" cy="178.6"/><circle r="3.6" cx="521.6" cy="177.8"/><circle r="3.6" cx="525.4" cy="177.4"/><circle r="3.6" cx="523.6" cy="176.9"/><circle r="3.6" cx="528.7" cy="175.9"/><circle r="3.6" cx="518.5" cy="175.6"/><circle r="3.6" cx="524.2" cy="175.1"/><circle r="3.6" cx="522" cy="174.5"/><circle r="3.6" cx="526.8" cy="174"/><circle r="3.6" cx="520.2" cy="173.4"/><circle r="3.6" cx="525.5" cy="172.8"/><circle r="3.6" cx="523.1" cy="172.7"/><circle r="3.6" cx="529.2" cy="172.2"/><circle r="3.6" cx="518.7" cy="171.6"/><circle r="3.6" cx="524.9" cy="171.3"/><circle r="3.6" cx="522.3" cy="170.8"/><circle r="3.6" cx="528.3" cy="170.3"/><circle r="3.6" cx="520.7" cy="169.9"/><circle r="3.6" cx="526.5" cy="169.7"/><circle r="3.6" cx="523.7" cy="169.5"/><circle r="3.6" cx="531.2" cy="168.9"/><circle r="3.6" cx="516.2" cy="168.7"/><circle r="3.6" cx="524.2" cy="168.2"/><circle r="3.6" cx="521.3" cy="167.6"/><circle r="3.6" cx="527.1" cy="167.2"/><circle r="3.6" cx="519.4" cy="166.8"/><circle r="3.6" cx="525.5" cy="166.2"/><circle r="3.6" cx="522.9" cy="166"/><circle r="3.6" cx="529.1" cy="165.4"/><circle r="3.6" cx="518.2" cy="165.1"/><circle r="3.6" cx="524.8" cy="164.6"/><circle r="3.6" cx="522.1" cy="164"/><circle r="3.6" cx="528.1" cy="163.8"/><circle r="3.6" cx="520.4" cy="163.3"/><circle r="3.6" cx="526.3" cy="162.8"/><circle r="3.6" cx="523.5" cy="162.5"/><circle r="3.6" cx="530.9" cy="162.2"/><circle r="3.6" cx="517" cy="161.8"/><circle r="3.6" cx="524.5" cy="161.2"/><circle r="3.6" cx="521.6" cy="161"/><circle r="3.6" cx="527.8" cy="160.4"/><circle r="3.6" cx="519.7" cy="160.2"/><circle r="3.6" cx="526" cy="159.7"/><circle r="3.6" cx="523.1" cy="159.5"/><circle r="3.6" cx="530.4" cy="158.8"/><circle r="3.6" cx="518.3" cy="158.7"/><circle r="3.6" cx="525.3" cy="158"/><circle r="3.6" cx="522.3" cy="157.9"/><circle r="3.6" cx="529.2" cy="157.4"/><circle r="3.6" cx="520.5" cy="157.1"/><circle r="3.6" cx="527" cy="156.6"/><circle r="3.6" cx="523.8" cy="156.1"/><circle r="3.6" cx="533" cy="155.9"/><circle r="3.6" cx="514.5" cy="155.6"/><circle r="3.6" cx="524.1" cy="155.2"/><circle r="3.6" cx="520.7" cy="154.9"/><circle r="3.6" cx="527.5" cy="154.5"/><circle r="3.6" cx="518.4" cy="154.2"/><circle r="3.6" cx="525.7" cy="153.9"/><circle r="3.6" cx="522.5" cy="153.5"/><circle r="3.6" cx="530" cy="153.1"/><circle r="3.6" cx="516.7" cy="152.8"/><circle r="3.6" cx="524.9" cy="152.6"/><circle r="3.6" cx="521.6" cy="152"/><circle r="3.6" cx="528.7" cy="151.9"/><circle r="3.6" cx="519.6" cy="151.4"/><circle r="3.6" cx="526.6" cy="151"/><circle r="3.6" cx="523.3" cy="150.7"/><circle r="3.6" cx="531.7" cy="150.5"/><circle r="3.6" cx="515.8" cy="149.9"/><circle r="3.6" cx="524.5" cy="149.7"/><circle r="3.6" cx="521.2" cy="149.4"/><circle r="3.6" cx="528" cy="149"/><circle r="3.6" cx="519.2" cy="148.8"/><circle r="3.6" cx="526" cy="148.2"/><circle r="3.6" cx="523" cy="147.8"/><circle r="3.6" cx="530.4" cy="147.4"/><circle r="3.6" cx="518" cy="147.1"/><circle r="3.6" cx="525.2" cy="146.9"/><circle r="3.6" cx="522.3" cy="146.4"/><circle r="3.6" cx="528.8" cy="146.1"/><circle r="3.6" cx="520.6" cy="145.6"/><circle r="3.6" cx="526.7" cy="145.2"/><circle r="3.6" cx="523.8" cy="144.9"/><circle r="3.6" cx="531.7" cy="144.5"/><circle r="3.6" cx="516.4" cy="144.1"/><circle r="3.6" cx="524.2" cy="143.6"/><circle r="3.6" cx="521.5" cy="143.2"/><circle r="3.6" cx="527.1" cy="142.6"/><circle r="3.6" cx="519.7" cy="142.5"/><circle r="3.6" cx="525.5" cy="141.9"/><circle r="3.6" cx="523" cy="141.5"/><circle r="3.6" cx="528.8" cy="141"/><circle r="3.6" cx="519" cy="140.6"/><circle r="3.6" cx="524.8" cy="140.1"/><circle r="3.6" cx="522.5" cy="139.5"/><circle r="3.6" cx="527.3" cy="138.8"/><circle r="3.6" cx="521.3" cy="138.7"/><circle r="3.6" cx="525.8" cy="138.1"/><circle r="3.6" cx="523.7" cy="137.5"/><circle r="3.6" cx="528.8" cy="136.6"/><circle r="3.6" cx="519.6" cy="136.4"/><circle r="3.6" cx="524.4" cy="135.7"/><circle r="3.6" cx="522.7" cy="134.9"/><circle r="3.6" cx="526.1" cy="133.8"/><circle r="3.6" cx="521.9" cy="133.3"/><circle r="3.6" cx="525" cy="132.8"/><circle r="3.6" cx="523.7" cy="131.7"/><circle r="3.6" cx="526.6" cy="130.8"/><circle r="3.6" cx="522" cy="130.1"/><circle r="3.6" cx="524.4" cy="128.9"/><circle r="3.6" cx="523.6" cy="126.9"/><circle r="3.6" cx="525.1" cy="124.9"/><circle r="3.6" cx="523.4" cy="123.4"/><circle r="3.6" cx="524.4" cy="121.3"/><circle r="3.6" cx="524" cy="113.9"/><circle r="3.6" cx="524.6" cy="108.3"/>
<circle r="3.6" cx="566.7" cy="208.5"/><circle r="3.6" cx="566.4" cy="202.3"/><circle r="3.6" cx="567.3" cy="198.2"/><circle r="3.6" cx="565.4" cy="196.4"/><circle r="3.6" cx="567.1" cy="195.3"/><circle r="3.6" cx="566.2" cy="193.6"/><circle r="3.6" cx="568.8" cy="192.3"/><circle r="3.6" cx="563.6" cy="191"/><circle r="3.6" cx="567" cy="190.6"/><circle r="3.6" cx="565.5" cy="189.2"/><circle r="3.6" cx="569.1" cy="188.9"/><circle r="3.6" cx="564.1" cy="187.8"/><circle r="3.6" cx="568.2" cy="187.3"/><circle r="3.6" cx="566.2" cy="186.8"/><circle r="3.6" cx="571.7" cy="186.1"/><circle r="3.6" cx="560.8" cy="185.6"/><circle r="3.6" cx="567" cy="185.2"/><circle r="3.6" cx="564.5" cy="184.6"/><circle r="3.6" cx="569.8" cy="183.9"/><circle r="3.6" cx="562.6" cy="183.5"/><circle r="3.6" cx="568.3" cy="183.3"/><circle r="3.6" cx="565.7" cy="182.5"/><circle r="3.6" cx="572.4" cy="182.1"/><circle r="3.6" cx="560.8" cy="181.7"/><circle r="3.6" cx="567.7" cy="181.4"/><circle r="3.6" cx="564.8" cy="180.8"/><circle r="3.6" cx="571.6" cy="180.5"/><circle r="3.6" cx="562.8" cy="180"/><circle r="3.6" cx="569.7" cy="179.6"/><circle r="3.6" cx="566.3" cy="179.2"/><circle r="3.6" cx="575.9" cy="178.7"/><circle r="3.6" cx="556.5" cy="178.3"/><circle r="3.6" cx="566.9" cy="178.2"/><circle r="3.6" cx="563.1" cy="177.9"/><circle r="3.6" cx="571" cy="177.3"/><circle r="3.6" cx="560.2" cy="177.1"/><circle r="3.6" cx="568.9" cy="176.7"/><circle r="3.6" cx="565" cy="176.4"/><circle r="3.6" cx="574.4" cy="176.2"/><circle r="3.6" cx="557.8" cy="175.8"/><circle r="3.6" cx="567.9" cy="175.7"/><circle r="3.6" cx="563.8" cy="175.4"/><circle r="3.6" cx="573.1" cy="175.1"/><circle r="3.6" cx="560.9" cy="174.7"/><circle r="3.6" cx="570.4" cy="174.5"/><circle r="3.6" cx="565.9" cy="174.2"/><circle r="3.6" cx="578" cy="173.9"/><circle r="3.6" cx="555.2" cy="173.6"/><circle r="3.6" cx="567.5" cy="173.3"/><circle r="3.6" cx="562.7" cy="173.1"/><circle r="3.6" cx="573.1" cy="172.7"/><circle r="3.6" cx="559.4" cy="172.6"/><circle r="3.6" cx="570.1" cy="172.3"/><circle r="3.6" cx="565.2" cy="172"/><circle r="3.6" cx="577.8" cy="171.8"/><circle r="3.6" cx="556.8" cy="171.6"/><circle r="3.6" cx="568.9" cy="171.4"/><circle r="3.6" cx="563.8" cy="171.1"/><circle r="3.6" cx="575.8" cy="170.8"/><circle r="3.6" cx="560.5" cy="170.5"/><circle r="3.6" cx="572.1" cy="170.5"/><circle r="3.6" cx="566.4" cy="170.2"/><circle r="3.6" cx="582.7" cy="170"/><circle r="3.6" cx="549.7" cy="169.7"/><circle r="3.6" cx="566.9" cy="169.5"/><circle r="3.6" cx="560.8" cy="169.4"/><circle r="3.6" cx="573.1" cy="169"/><circle r="3.6" cx="556.5" cy="168.9"/><circle r="3.6" cx="569.8" cy="168.6"/><circle r="3.6" cx="564" cy="168.5"/><circle r="3.6" cx="577.8" cy="168.3"/><circle r="3.6" cx="553.2" cy="168.1"/><circle r="3.6" cx="568.3" cy="167.8"/><circle r="3.6" cx="562.2" cy="167.7"/><circle r="3.6" cx="575.7" cy="167.4"/><circle r="3.6" cx="558.2" cy="167.2"/><circle r="3.6" cx="571.7" cy="167"/><circle r="3.6" cx="565.4" cy="166.9"/><circle r="3.6" cx="582" cy="166.6"/><circle r="3.6" cx="550.3" cy="166.5"/><circle r="3.6" cx="567.6" cy="166.3"/><circle r="3.6" cx="561" cy="166.1"/><circle r="3.6" cx="575" cy="165.9"/><circle r="3.6" cx="556.6" cy="165.8"/><circle r="3.6" cx="571" cy="165.5"/><circle r="3.6" cx="564.5" cy="165.4"/><circle r="3.6" cx="580.8" cy="165.1"/><circle r="3.6" cx="553.4" cy="165"/><circle r="3.6" cx="569.3" cy="164.8"/><circle r="3.6" cx="562.7" cy="164.7"/><circle r="3.6" cx="577.9" cy="164.5"/><circle r="3.6" cx="558.6" cy="164.3"/><circle r="3.6" cx="573.2" cy="164.2"/><circle r="3.6" cx="566.1" cy="163.9"/><circle r="3.6" cx="585.9" cy="163.8"/><circle r="3.6" cx="547.4" cy="163.5"/><circle r="3.6" cx="567.3" cy="163.4"/><circle r="3.6" cx="560" cy="163.3"/><circle r="3.6" cx="575.1" cy="163.1"/><circle r="3.6" cx="555" cy="162.9"/><circle r="3.6" cx="570.9" cy="162.7"/><circle r="3.6" cx="563.9" cy="162.6"/><circle r="3.6" cx="580.9" cy="162.4"/><circle r="3.6" cx="551.5" cy="162.2"/><circle r="3.6" cx="569.1" cy="162"/><circle r="3.6" cx="561.9" cy="161.9"/><circle r="3.6" cx="578" cy="161.7"/><circle r="3.6" cx="557.4" cy="161.6"/><circle r="3.6" cx="573.1" cy="161.3"/><circle r="3.6" cx="565.6" cy="161.1"/><circle r="3.6" cx="585.7" cy="160.9"/><circle r="3.6" cx="548.9" cy="160.8"/><circle r="3.6" cx="568.2" cy="160.7"/><circle r="3.6" cx="560.7" cy="160.5"/><circle r="3.6" cx="576.9" cy="160.3"/><circle r="3.6" cx="555.8" cy="160.1"/><circle r="3.6" cx="572.2" cy="160"/><circle r="3.6" cx="564.7" cy="159.9"/><circle r="3.6" cx="583.7" cy="159.6"/><circle r="3.6" cx="552.5" cy="159.5"/><circle r="3.6" cx="570.2" cy="159.4"/><circle r="3.6" cx="562.7" cy="159.2"/><circle r="3.6" cx="580.2" cy="159"/><circle r="3.6" cx="558.2" cy="158.9"/><circle r="3.6" cx="574.6" cy="158.7"/><circle r="3.6" cx="566.5" cy="158.6"/><circle r="3.6" cx="590.2" cy="158.4"/><circle r="3.6" cx="542.5" cy="158.2"/><circle r="3.6" cx="566.8" cy="158.1"/><circle r="3.6" cx="558.5" cy="158"/><circle r="3.6" cx="575.2" cy="157.8"/><circle r="3.6" cx="552.7" cy="157.6"/><circle r="3.6" cx="570.7" cy="157.5"/><circle r="3.6" cx="563" cy="157.3"/><circle r="3.6" cx="581.3" cy="157.2"/><circle r="3.6" cx="548.5" cy="157"/><circle r="3.6" cx="568.7" cy="156.8"/><circle r="3.6" cx="560.7" cy="156.7"/><circle r="3.6" cx="578.2" cy="156.5"/><circle r="3.6" cx="555.6" cy="156.4"/><circle r="3.6" cx="573" cy="156.2"/><circle r="3.6" cx="564.9" cy="156"/><circle r="3.6" cx="585.8" cy="156"/><circle r="3.6" cx="545.5" cy="155.7"/><circle r="3.6" cx="567.8" cy="155.7"/><circle r="3.6" cx="559.4" cy="155.4"/><circle r="3.6" cx="576.9" cy="155.4"/><circle r="3.6" cx="553.8" cy="155.2"/><circle r="3.6" cx="571.9" cy="155"/><circle r="3.6" cx="563.9" cy="154.9"/><circle r="3.6" cx="583.8" cy="154.8"/><circle r="3.6" cx="550.1" cy="154.6"/><circle r="3.6" cx="569.8" cy="154.4"/><circle r="3.6" cx="561.7" cy="154.3"/><circle r="3.6" cx="580.2" cy="154.1"/><circle r="3.6" cx="556.7" cy="154"/><circle r="3.6" cx="574.4" cy="153.8"/><circle r="3.6" cx="565.9" cy="153.7"/><circle r="3.6" cx="589.3" cy="153.6"/><circle r="3.6" cx="543.1" cy="153.4"/><circle r="3.6" cx="567.3" cy="153.3"/><circle r="3.6" cx="558.6" cy="153.1"/><circle r="3.6" cx="576.5" cy="153"/><circle r="3.6" cx="552.6" cy="152.8"/><circle r="3.6" cx="571.5" cy="152.6"/><circle r="3.6" cx="563.3" cy="152.5"/><circle r="3.6" cx="583.1" cy="152.3"/><circle r="3.6" cx="548.6" cy="152.2"/><circle r="3.6" cx="569.3" cy="152.1"/><circle r="3.6" cx="561" cy="152"/><circle r="3.6" cx="579.6" cy="151.9"/><circle r="3.6" cx="555.8" cy="151.7"/><circle r="3.6" cx="573.9" cy="151.5"/><circle r="3.6" cx="565.3" cy="151.4"/><circle r="3.6" cx="588.1" cy="151.3"/><circle r="3.6" cx="546" cy="151.1"/><circle r="3.6" cx="568.3" cy="151"/><circle r="3.6" cx="559.8" cy="150.9"/><circle r="3.6" cx="578.1" cy="150.7"/><circle r="3.6" cx="554.2" cy="150.5"/><circle r="3.6" cx="572.7" cy="150.4"/><circle r="3.6" cx="564.3" cy="150.2"/><circle r="3.6" cx="585.4" cy="150.1"/><circle r="3.6" cx="550.6" cy="150"/><circle r="3.6" cx="570.4" cy="149.9"/><circle r="3.6" cx="562.1" cy="149.6"/><circle r="3.6" cx="581.3" cy="149.5"/><circle r="3.6" cx="557.2" cy="149.4"/><circle r="3.6" cx="575.2" cy="149.2"/><circle r="3.6" cx="566.3" cy="149.1"/><circle r="3.6" cx="591.7" cy="148.9"/><circle r="3.6" cx="541.7" cy="148.9"/><circle r="3.6" cx="567.1" cy="148.7"/><circle r="3.6" cx="558.2" cy="148.6"/><circle r="3.6" cx="576.2" cy="148.4"/><circle r="3.6" cx="552.1" cy="148.3"/><circle r="3.6" cx="571.2" cy="148.1"/><circle r="3.6" cx="563" cy="148"/><circle r="3.6" cx="582.6" cy="147.9"/><circle r="3.6" cx="548.1" cy="147.7"/><circle r="3.6" cx="569.1" cy="147.5"/><circle r="3.6" cx="560.7" cy="147.4"/><circle r="3.6" cx="579.1" cy="147.2"/><circle r="3.6" cx="555.5" cy="147"/><circle r="3.6" cx="573.5" cy="146.9"/><circle r="3.6" cx="565.1" cy="146.8"/><circle r="3.6" cx="587" cy="146.7"/><circle r="3.6" cx="545.7" cy="146.5"/><circle r="3.6" cx="568" cy="146.3"/><circle r="3.6" cx="559.6" cy="146.3"/><circle r="3.6" cx="577.4" cy="146"/><circle r="3.6" cx="554.1" cy="146"/><circle r="3.6" cx="572.3" cy="145.8"/><circle r="3.6" cx="564.1" cy="145.6"/><circle r="3.6" cx="584.4" cy="145.5"/><circle r="3.6" cx="550.6" cy="145.2"/><circle r="3.6" cx="570.1" cy="145.1"/><circle r="3.6" cx="562" cy="145"/><circle r="3.6" cx="580.4" cy="144.8"/><circle r="3.6" cx="557.1" cy="144.6"/><circle r="3.6" cx="574.6" cy="144.5"/><circle r="3.6" cx="566.1" cy="144.5"/><circle r="3.6" cx="589.8" cy="144.3"/><circle r="3.6" cx="544.6" cy="144.1"/><circle r="3.6" cx="567.5" cy="144"/><circle r="3.6" cx="559.2" cy="143.8"/><circle r="3.6" cx="576.5" cy="143.7"/><circle r="3.6" cx="553.6" cy="143.5"/><circle r="3.6" cx="571.6" cy="143.3"/><circle r="3.6" cx="563.7" cy="143.2"/><circle r="3.6" cx="582.9" cy="143"/><circle r="3.6" cx="550" cy="142.8"/><circle r="3.6" cx="569.5" cy="142.7"/><circle r="3.6" cx="561.6" cy="142.5"/><circle r="3.6" cx="579.3" cy="142.4"/><circle r="3.6" cx="556.7" cy="142.3"/><circle r="3.6" cx="573.8" cy="142.2"/><circle r="3.6" cx="565.7" cy="141.9"/><circle r="3.6" cx="587.5" cy="141.8"/><circle r="3.6" cx="548" cy="141.7"/><circle r="3.6" cx="568.4" cy="141.4"/><circle r="3.6" cx="560.5" cy="141.3"/><circle r="3.6" cx="577.6" cy="141.2"/><circle r="3.6" cx="555.4" cy="141"/><circle r="3.6" cx="572.6" cy="140.8"/><circle r="3.6" cx="564.7" cy="140.7"/><circle r="3.6" cx="584.6" cy="140.5"/><circle r="3.6" cx="552.3" cy="140.4"/><circle r="3.6" cx="570.4" cy="140.3"/><circle r="3.6" cx="562.8" cy="140"/><circle r="3.6" cx="580.5" cy="140"/><circle r="3.6" cx="558.3" cy="139.8"/><circle r="3.6" cx="574.8" cy="139.6"/><circle r="3.6" cx="566.6" cy="139.4"/><circle r="3.6" cx="590.6" cy="139.4"/><circle r="3.6" cx="542.5" cy="139.2"/><circle r="3.6" cx="566.8" cy="139"/><circle r="3.6" cx="558.6" cy="138.8"/><circle r="3.6" cx="574.9" cy="138.6"/><circle r="3.6" cx="553.1" cy="138.5"/><circle r="3.6" cx="570.5" cy="138.3"/><circle r="3.6" cx="563.1" cy="138.2"/><circle r="3.6" cx="580.5" cy="138"/><circle r="3.6" cx="549.4" cy="137.8"/><circle r="3.6" cx="568.5" cy="137.7"/><circle r="3.6" cx="561" cy="137.6"/><circle r="3.6" cx="577.3" cy="137.3"/><circle r="3.6" cx="556.3" cy="137.2"/><circle r="3.6" cx="572.4" cy="137.1"/><circle r="3.6" cx="565" cy="136.8"/><circle r="3.6" cx="584" cy="136.7"/><circle r="3.6" cx="547.2" cy="136.5"/><circle r="3.6" cx="567.6" cy="136.3"/><circle r="3.6" cx="560.1" cy="136.3"/><circle r="3.6" cx="575.8" cy="136.1"/><circle r="3.6" cx="555.1" cy="135.8"/><circle r="3.6" cx="571.3" cy="135.7"/><circle r="3.6" cx="564.1" cy="135.5"/><circle r="3.6" cx="581.6" cy="135.3"/><circle r="3.6" cx="552" cy="135.2"/><circle r="3.6" cx="569.4" cy="135"/><circle r="3.6" cx="562.3" cy="134.9"/><circle r="3.6" cx="578.3" cy="134.7"/><circle r="3.6" cx="558" cy="134.5"/><circle r="3.6" cx="573.3" cy="134.3"/><circle r="3.6" cx="565.9" cy="134.1"/><circle r="3.6" cx="585.8" cy="133.9"/><circle r="3.6" cx="546.4" cy="133.7"/><circle r="3.6" cx="567.2" cy="133.7"/><circle r="3.6" cx="559.8" cy="133.4"/><circle r="3.6" cx="574.9" cy="133.2"/><circle r="3.6" cx="554.8" cy="133"/><circle r="3.6" cx="570.7" cy="132.9"/><circle r="3.6" cx="563.8" cy="132.6"/><circle r="3.6" cx="580.2" cy="132.5"/><circle r="3.6" cx="551.7" cy="132.3"/><circle r="3.6" cx="568.8" cy="132.2"/><circle r="3.6" cx="562" cy="131.9"/><circle r="3.6" cx="577.1" cy="131.8"/><circle r="3.6" cx="557.7" cy="131.6"/><circle r="3.6" cx="572.5" cy="131.5"/><circle r="3.6" cx="565.6" cy="131.3"/><circle r="3.6" cx="583.8" cy="131.1"/><circle r="3.6" cx="549.9" cy="131"/><circle r="3.6" cx="567.9" cy="130.8"/><circle r="3.6" cx="561.1" cy="130.7"/><circle r="3.6" cx="575.7" cy="130.5"/><circle r="3.6" cx="556.7" cy="130.2"/><circle r="3.6" cx="571.4" cy="130.1"/><circle r="3.6" cx="564.8" cy="129.9"/><circle r="3.6" cx="581.3" cy="129.7"/><circle r="3.6" cx="554.1" cy="129.5"/><circle r="3.6" cx="569.5" cy="129.3"/><circle r="3.6" cx="563.1" cy="129.1"/><circle r="3.6" cx="577.9" cy="129.1"/><circle r="3.6" cx="559.3" cy="128.9"/><circle r="3.6" cx="573.1" cy="128.6"/><circle r="3.6" cx="566.4" cy="128.5"/><circle r="3.6" cx="585.3" cy="128.2"/><circle r="3.6" cx="547.8" cy="128"/><circle r="3.6" cx="566.9" cy="127.9"/><circle r="3.6" cx="560.3" cy="127.7"/><circle r="3.6" cx="573.6" cy="127.4"/><circle r="3.6" cx="555.9" cy="127.3"/><circle r="3.6" cx="570" cy="127.1"/><circle r="3.6" cx="564" cy="127"/><circle r="3.6" cx="578.1" cy="126.8"/><circle r="3.6" cx="553.3" cy="126.5"/><circle r="3.6" cx="568.3" cy="126.3"/><circle r="3.6" cx="562.5" cy="126.1"/><circle r="3.6" cx="575.3" cy="125.8"/><circle r="3.6" cx="558.9" cy="125.6"/><circle r="3.6" cx="571.3" cy="125.4"/><circle r="3.6" cx="565.6" cy="125.2"/><circle r="3.6" cx="580.3" cy="125"/><circle r="3.6" cx="552.5" cy="124.8"/><circle r="3.6" cx="567.5" cy="124.6"/><circle r="3.6" cx="562" cy="124.4"/><circle r="3.6" cx="573.7" cy="124.1"/><circle r="3.6" cx="558.5" cy="123.9"/><circle r="3.6" cx="570.2" cy="123.6"/><circle r="3.6" cx="565" cy="123.5"/><circle r="3.6" cx="577.7" cy="123.3"/><circle r="3.6" cx="556.7" cy="122.9"/><circle r="3.6" cx="568.7" cy="122.6"/><circle r="3.6" cx="563.8" cy="122.5"/><circle r="3.6" cx="574.9" cy="122.3"/><circle r="3.6" cx="561" cy="121.9"/><circle r="3.6" cx="571.3" cy="121.7"/><circle r="3.6" cx="566.3" cy="121.5"/><circle r="3.6" cx="579.6" cy="121.1"/><circle r="3.6" cx="554.1" cy="121"/><circle r="3.6" cx="567.1" cy="120.5"/><circle r="3.6" cx="562.5" cy="120.4"/><circle r="3.6" cx="571.9" cy="120"/><circle r="3.6" cx="559.7" cy="119.7"/><circle r="3.6" cx="569.2" cy="119.3"/><circle r="3.6" cx="565.1" cy="119.2"/><circle r="3.6" cx="574.8" cy="118.9"/><circle r="3.6" cx="558.3" cy="118.6"/><circle r="3.6" cx="568" cy="118.3"/><circle r="3.6" cx="564.2" cy="117.8"/><circle r="3.6" cx="572.6" cy="117.6"/><circle r="3.6" cx="562.1" cy="117.3"/><circle r="3.6" cx="569.9" cy="117"/><circle r="3.6" cx="566.2" cy="116.6"/><circle r="3.6" cx="575.6" cy="116.1"/><circle r="3.6" cx="558.7" cy="116"/><circle r="3.6" cx="567.4" cy="115.5"/><circle r="3.6" cx="564.2" cy="115"/><circle r="3.6" cx="571" cy="114.8"/><circle r="3.6" cx="562.3" cy="114.2"/><circle r="3.6" cx="568.9" cy="113.7"/><circle r="3.6" cx="566" cy="113.4"/><circle r="3.6" cx="572.9" cy="112.8"/><circle r="3.6" cx="561.8" cy="112.3"/><circle r="3.6" cx="567.9" cy="111.9"/><circle r="3.6" cx="565.4" cy="111.6"/><circle r="3.6" cx="571" cy="111"/><circle r="3.6" cx="564.1" cy="110.5"/><circle r="3.6" cx="569" cy="109.8"/><circle r="3.6" cx="566.7" cy="109.7"/><circle r="3.6" cx="573.1" cy="108.8"/><circle r="3.6" cx="560.5" cy="108.4"/><circle r="3.6" cx="566.7" cy="107.8"/><circle r="3.6" cx="564.9" cy="107.1"/><circle r="3.6" cx="568.4" cy="105.9"/><circle r="3.6" cx="563.9" cy="105.7"/><circle r="3.6" cx="567.4" cy="104.6"/><circle r="3.6" cx="566.1" cy="103.2"/><circle r="3.6" cx="568.8" cy="102.5"/><circle r="3.6" cx="564.5" cy="101.2"/><circle r="3.6" cx="566.9" cy="99.4"/><circle r="3.6" cx="566.2" cy="98.2"/><circle r="3.6" cx="567.5" cy="95.6"/><circle r="3.6" cx="566.2" cy="93.6"/><circle r="3.6" cx="566.8" cy="85.9"/>
</g>
<g class="pt" filter="url(#so)" fill="#000" fill-opacity=".075" stroke="#000" stroke-opacity=".17" stroke-width="0.9">
<circle r="3.6" cx="481.4" cy="85.2"/><circle r="3.6" cx="481.3" cy="95.6"/><circle r="3.6" cx="481.7" cy="213.4"/><circle r="3.6" cx="523.9" cy="98.9"/><circle r="3.6" cx="524.3" cy="108"/><circle r="3.6" cx="523.8" cy="210.8"/><circle r="3.6" cx="524.6" cy="217.3"/><circle r="3.6" cx="566.4" cy="62.1"/><circle r="3.6" cx="566.7" cy="65.4"/><circle r="3.6" cx="567" cy="68"/><circle r="3.6" cx="566.9" cy="69.6"/><circle r="3.6" cx="566.3" cy="75.8"/><circle r="3.6" cx="566.2" cy="78.4"/><circle r="3.6" cx="566.7" cy="222.3"/><circle r="3.6" cx="566.3" cy="231.6"/>
</g></g>
<path d="M481.3 97.6V134.2M481.3 164.7V204.3M465.5 134.2H497.1V146.3L488.9 148.8L497.1 151.3V164.7H465.5V151.3L473.7 148.8L465.5 146.3ZM524.0 108.3V144.1M524.0 168.5V199.1M508.2 144.1H539.8V152.5L531.6 155.5L539.8 158.5V168.5H508.2V158.5L516.4 155.5L508.2 152.5ZM566.7 85.9V131.9M566.7 163.0V208.5M550.9 131.9H582.5V146.1L574.3 147.8L582.5 149.5V163.0H550.9V149.5L559.1 147.8L550.9 146.1Z" stroke="#000" stroke-width="2" fill="none" stroke-linejoin="miter"/>
<path d="M473.7 148.8H488.9M516.4 155.5H531.6M559.1 147.8H574.3" stroke="#000" stroke-width="4" fill="none"/>
<text class="st" x="504.50" y="34.8">**</text>
<text class="st" x="545.75" y="34.8">***</text>
<path d="M482.0 40.6V34.9Q482.0 32.7 484.2 32.7H521.9Q524.1 32.7 524.1 34.9V40.6M524.9 40.6V34.9Q524.9 32.7 527.1 32.7H564.3Q566.5 32.7 566.5 34.9V40.6" stroke="#222" stroke-width="1.25" fill="none"/>
</g>
<g>
<rect x="659.2" y="42.2" width="136.6" height="214.2" fill="#e6e6e6"/>
<path d="M659.2 230.60H795.8M659.2 198.08H795.8M659.2 165.56H795.8M659.2 133.04H795.8M659.2 100.52H795.8M659.2 68.00H795.8" stroke="#fff" stroke-width="0.85" fill="none"/>
<path d="M659.2 246.86H795.8M659.2 214.34H795.8M659.2 181.82H795.8M659.2 149.30H795.8M659.2 116.78H795.8M659.2 84.26H795.8M659.2 51.74H795.8M684.60 42.2V256.4M727.30 42.2V256.4M770.00 42.2V256.4" stroke="#fff" stroke-width="1.7" fill="none"/>
<path d="M653.6 246.86H659.2M653.6 214.34H659.2M653.6 181.82H659.2M653.6 149.30H659.2M653.6 116.78H659.2M653.6 84.26H659.2M653.6 51.74H659.2M684.60 256.4V261.7M727.30 256.4V261.7M770.00 256.4V261.7" stroke="#1a1a1a" stroke-width="1.8" fill="none"/>
<text class="yt" x="649.4" y="251.5">−3</text>
<text class="yt" x="649.4" y="219.0">−2</text>
<text class="yt" x="649.4" y="186.5">−1</text>
<text class="yt" x="649.4" y="154.0">0</text>
<text class="yt" x="649.4" y="121.4">1</text>
<text class="yt" x="649.4" y="88.9">2</text>
<text class="yt" x="649.4" y="56.4">3</text>
<text class="xt" x="684.6" y="277.0">HIV−</text>
<text class="xt" x="727.3" y="277.0">HIV+</text>
<text class="xt" x="727.3" y="293.3">ART−</text>
<text class="xt" x="770.0" y="277.0">HIV+</text>
<text class="xt" x="770.0" y="293.3">ART+</text>
<text class="ti" transform="translate(624.3 149.3) rotate(-90)">Ceramide C24:1</text>
<path d="M668.8 144.7H700.4V155.4L692.2 158.7L700.4 162.0V174.2H668.8V162.0L677.0 158.7L668.8 155.4ZM711.5 137.1H743.1V150.1L734.9 154.4L743.1 158.7V168.5H711.5V158.7L719.7 154.4L711.5 150.1ZM754.2 125.3H785.8V140.8L777.6 142.8L785.8 144.8V162.0H754.2V144.8L762.4 142.8L754.2 140.8Z" fill="#fff"/>
<clipPath id="cp3"><rect x="659.2" y="42.2" width="136.6" height="214.2"/></clipPath>
<g clip-path="url(#cp3)">
<g class="pt" filter="url(#sf)" fill="#000" fill-opacity=".10" stroke="#000" stroke-opacity=".09" stroke-width="0.9">
<circle r="3.6" cx="684.6" cy="217.3"/><circle r="3.6" cx="684.4" cy="208.7"/><circle r="3.6" cx="684.9" cy="205.1"/><circle r="3.6" cx="683.9" cy="202.4"/><circle r="3.6" cx="684.8" cy="199"/><circle r="3.6" cx="684.3" cy="197.1"/><circle r="3.6" cx="685.9" cy="196"/><circle r="3.6" cx="682.7" cy="194.3"/><circle r="3.6" cx="684.8" cy="193.2"/><circle r="3.6" cx="683.8" cy="192.1"/><circle r="3.6" cx="686.1" cy="191.3"/><circle r="3.6" cx="683" cy="190.2"/><circle r="3.6" cx="685.6" cy="189"/><circle r="3.6" cx="684.3" cy="188.2"/><circle r="3.6" cx="687.8" cy="187.8"/><circle r="3.6" cx="680.7" cy="187"/><circle r="3.6" cx="684.8" cy="186.2"/><circle r="3.6" cx="683.2" cy="185.8"/><circle r="3.6" cx="686.6" cy="185.2"/><circle r="3.6" cx="681.9" cy="184.3"/><circle r="3.6" cx="685.7" cy="183.5"/><circle r="3.6" cx="684" cy="183"/><circle r="3.6" cx="688.4" cy="182.4"/><circle r="3.6" cx="680.7" cy="182.2"/><circle r="3.6" cx="685.3" cy="181.5"/><circle r="3.6" cx="683.4" cy="181"/><circle r="3.6" cx="687.9" cy="180.5"/><circle r="3.6" cx="682" cy="179.8"/><circle r="3.6" cx="686.6" cy="179.3"/><circle r="3.6" cx="684.3" cy="178.8"/><circle r="3.6" cx="690.7" cy="178.4"/><circle r="3.6" cx="677.9" cy="177.9"/><circle r="3.6" cx="684.7" cy="177.5"/><circle r="3.6" cx="682.3" cy="177.4"/><circle r="3.6" cx="687.4" cy="176.7"/><circle r="3.6" cx="680.5" cy="176.5"/><circle r="3.6" cx="686" cy="176.1"/><circle r="3.6" cx="683.6" cy="175.7"/><circle r="3.6" cx="689.4" cy="175.2"/><circle r="3.6" cx="679.2" cy="174.9"/><circle r="3.6" cx="685.3" cy="174.5"/><circle r="3.6" cx="682.9" cy="174.1"/><circle r="3.6" cx="688.4" cy="173.7"/><circle r="3.6" cx="681.3" cy="173.1"/><circle r="3.6" cx="686.7" cy="172.5"/><circle r="3.6" cx="684.2" cy="172.4"/><circle r="3.6" cx="691" cy="172"/><circle r="3.6" cx="678.2" cy="171.4"/><circle r="3.6" cx="685.1" cy="171"/><circle r="3.6" cx="682.4" cy="170.6"/><circle r="3.6" cx="688.1" cy="170.4"/><circle r="3.6" cx="680.6" cy="169.8"/><circle r="3.6" cx="686.4" cy="169.6"/><circle r="3.6" cx="683.8" cy="169.2"/><circle r="3.6" cx="690.4" cy="168.7"/><circle r="3.6" cx="679.4" cy="168.3"/><circle r="3.6" cx="685.7" cy="168"/><circle r="3.6" cx="683.1" cy="167.6"/><circle r="3.6" cx="689.3" cy="167.2"/><circle r="3.6" cx="681.4" cy="166.8"/><circle r="3.6" cx="687.3" cy="166.5"/><circle r="3.6" cx="684.4" cy="166.2"/><circle r="3.6" cx="692.7" cy="165.8"/><circle r="3.6" cx="676.1" cy="165.3"/><circle r="3.6" cx="684.7" cy="165"/><circle r="3.6" cx="681.7" cy="164.7"/><circle r="3.6" cx="687.7" cy="164.2"/><circle r="3.6" cx="679.6" cy="163.9"/><circle r="3.6" cx="686.1" cy="163.6"/><circle r="3.6" cx="683.3" cy="163.1"/><circle r="3.6" cx="690" cy="162.7"/><circle r="3.6" cx="678" cy="162.3"/><circle r="3.6" cx="685.4" cy="162.2"/><circle r="3.6" cx="682.5" cy="161.7"/><circle r="3.6" cx="688.9" cy="161.4"/><circle r="3.6" cx="680.5" cy="161.1"/><circle r="3.6" cx="687" cy="160.6"/><circle r="3.6" cx="684" cy="160.3"/><circle r="3.6" cx="691.9" cy="160"/><circle r="3.6" cx="676.8" cy="159.6"/><circle r="3.6" cx="685" cy="159.4"/><circle r="3.6" cx="681.9" cy="158.9"/><circle r="3.6" cx="688.5" cy="158.7"/><circle r="3.6" cx="679.8" cy="158.3"/><circle r="3.6" cx="686.6" cy="157.9"/><circle r="3.6" cx="683.6" cy="157.8"/><circle r="3.6" cx="691.2" cy="157.2"/><circle r="3.6" cx="678.4" cy="157"/><circle r="3.6" cx="685.8" cy="156.6"/><circle r="3.6" cx="682.8" cy="156.5"/><circle r="3.6" cx="689.8" cy="156.1"/><circle r="3.6" cx="680.9" cy="155.9"/><circle r="3.6" cx="687.6" cy="155.3"/><circle r="3.6" cx="684.3" cy="155.1"/><circle r="3.6" cx="693.3" cy="154.7"/><circle r="3.6" cx="676" cy="154.3"/><circle r="3.6" cx="684.9" cy="154.2"/><circle r="3.6" cx="681.6" cy="153.9"/><circle r="3.6" cx="688.3" cy="153.3"/><circle r="3.6" cx="679.5" cy="153.1"/><circle r="3.6" cx="686.4" cy="152.7"/><circle r="3.6" cx="683.4" cy="152.3"/><circle r="3.6" cx="690.7" cy="152"/><circle r="3.6" cx="678.2" cy="151.8"/><circle r="3.6" cx="685.6" cy="151.6"/><circle r="3.6" cx="682.6" cy="151.1"/><circle r="3.6" cx="689.2" cy="150.6"/><circle r="3.6" cx="680.8" cy="150.6"/><circle r="3.6" cx="687.2" cy="150.2"/><circle r="3.6" cx="684.2" cy="149.8"/><circle r="3.6" cx="692.1" cy="149.3"/><circle r="3.6" cx="677.6" cy="148.9"/><circle r="3.6" cx="685.2" cy="148.7"/><circle r="3.6" cx="682.3" cy="148.4"/><circle r="3.6" cx="688.5" cy="147.9"/><circle r="3.6" cx="680.5" cy="147.6"/><circle r="3.6" cx="686.6" cy="147.3"/><circle r="3.6" cx="683.9" cy="146.8"/><circle r="3.6" cx="690.8" cy="146.6"/><circle r="3.6" cx="679.5" cy="145.9"/><circle r="3.6" cx="685.8" cy="145.6"/><circle r="3.6" cx="683.2" cy="145.2"/><circle r="3.6" cx="689.3" cy="145"/><circle r="3.6" cx="681.7" cy="144.5"/><circle r="3.6" cx="687.3" cy="144.2"/><circle r="3.6" cx="684.5" cy="143.8"/><circle r="3.6" cx="692.3" cy="143.4"/><circle r="3.6" cx="676.8" cy="143.1"/><circle r="3.6" cx="684.6" cy="142.7"/><circle r="3.6" cx="682" cy="142.3"/><circle r="3.6" cx="687.2" cy="141.9"/><circle r="3.6" cx="680.4" cy="141.3"/><circle r="3.6" cx="685.8" cy="140.8"/><circle r="3.6" cx="683.5" cy="140.5"/><circle r="3.6" cx="688.7" cy="140"/><circle r="3.6" cx="679.7" cy="139.5"/><circle r="3.6" cx="685.1" cy="138.9"/><circle r="3.6" cx="683" cy="138.6"/><circle r="3.6" cx="687.5" cy="137.9"/><circle r="3.6" cx="681.9" cy="137.5"/><circle r="3.6" cx="686.1" cy="136.9"/><circle r="3.6" cx="684.2" cy="136.3"/><circle r="3.6" cx="688.8" cy="135.8"/><circle r="3.6" cx="680" cy="135.3"/><circle r="3.6" cx="684.8" cy="134.9"/><circle r="3.6" cx="683.2" cy="133.9"/><circle r="3.6" cx="686.6" cy="133.7"/><circle r="3.6" cx="682.2" cy="132.8"/><circle r="3.6" cx="685.5" cy="131.7"/><circle r="3.6" cx="684.1" cy="131"/><circle r="3.6" cx="687.2" cy="130.2"/><circle r="3.6" cx="682.1" cy="129.9"/><circle r="3.6" cx="685" cy="128.5"/><circle r="3.6" cx="684" cy="127.8"/><circle r="3.6" cx="686.2" cy="126.6"/><circle r="3.6" cx="683.5" cy="125.8"/><circle r="3.6" cx="685.3" cy="124"/><circle r="3.6" cx="684.5" cy="123.1"/><circle r="3.6" cx="686.2" cy="121.6"/><circle r="3.6" cx="683.3" cy="118.4"/><circle r="3.6" cx="684.6" cy="116.3"/><circle r="3.6" cx="684.2" cy="114.5"/><circle r="3.6" cx="684.9" cy="111.5"/><circle r="3.6" cx="684.4" cy="100.8"/>
<circle r="3.6" cx="727.3" cy="212.7"/><circle r="3.6" cx="727.1" cy="204.8"/><circle r="3.6" cx="727.5" cy="198.4"/><circle r="3.6" cx="726.6" cy="193.2"/><circle r="3.6" cx="727.6" cy="190.7"/><circle r="3.6" cx="727" cy="188.8"/><circle r="3.6" cx="728.6" cy="188"/><circle r="3.6" cx="725.6" cy="186.5"/><circle r="3.6" cx="727.5" cy="185.2"/><circle r="3.6" cx="726.6" cy="183.3"/><circle r="3.6" cx="728.6" cy="182.5"/><circle r="3.6" cx="725.9" cy="181.2"/><circle r="3.6" cx="728.2" cy="179.8"/><circle r="3.6" cx="727" cy="179.2"/><circle r="3.6" cx="730.2" cy="178.3"/><circle r="3.6" cx="723.9" cy="177.9"/><circle r="3.6" cx="727.5" cy="176.5"/><circle r="3.6" cx="726" cy="176.1"/><circle r="3.6" cx="729.1" cy="175.5"/><circle r="3.6" cx="724.9" cy="174.8"/><circle r="3.6" cx="728.3" cy="174"/><circle r="3.6" cx="726.7" cy="173.5"/><circle r="3.6" cx="730.6" cy="172.6"/><circle r="3.6" cx="723.9" cy="171.9"/><circle r="3.6" cx="727.9" cy="171.2"/><circle r="3.6" cx="726.2" cy="170.9"/><circle r="3.6" cx="730.1" cy="170.4"/><circle r="3.6" cx="725.1" cy="169.5"/><circle r="3.6" cx="729" cy="169"/><circle r="3.6" cx="727.1" cy="168.4"/><circle r="3.6" cx="732.4" cy="167.9"/><circle r="3.6" cx="721.6" cy="167.2"/><circle r="3.6" cx="727.4" cy="166.9"/><circle r="3.6" cx="725.3" cy="166.4"/><circle r="3.6" cx="729.6" cy="165.7"/><circle r="3.6" cx="723.8" cy="165.5"/><circle r="3.6" cx="728.5" cy="164.9"/><circle r="3.6" cx="726.4" cy="164.4"/><circle r="3.6" cx="731.4" cy="163.6"/><circle r="3.6" cx="722.6" cy="163.1"/><circle r="3.6" cx="727.9" cy="162.7"/><circle r="3.6" cx="725.8" cy="162.5"/><circle r="3.6" cx="730.6" cy="162"/><circle r="3.6" cx="724.4" cy="161.5"/><circle r="3.6" cx="729.2" cy="160.8"/><circle r="3.6" cx="726.9" cy="160.6"/><circle r="3.6" cx="732.8" cy="160.1"/><circle r="3.6" cx="721.7" cy="159.7"/><circle r="3.6" cx="727.7" cy="159"/><circle r="3.6" cx="725.4" cy="158.5"/><circle r="3.6" cx="730.3" cy="158.2"/><circle r="3.6" cx="723.9" cy="157.9"/><circle r="3.6" cx="728.8" cy="157.1"/><circle r="3.6" cx="726.6" cy="156.8"/><circle r="3.6" cx="732.1" cy="156.3"/><circle r="3.6" cx="723.1" cy="155.9"/><circle r="3.6" cx="728.2" cy="155.3"/><circle r="3.6" cx="726.1" cy="155"/><circle r="3.6" cx="731" cy="154.5"/><circle r="3.6" cx="724.9" cy="154"/><circle r="3.6" cx="729.4" cy="153.8"/><circle r="3.6" cx="727.2" cy="153.1"/><circle r="3.6" cx="733.2" cy="152.3"/><circle r="3.6" cx="721.2" cy="152.1"/><circle r="3.6" cx="727.4" cy="151.5"/><circle r="3.6" cx="725.3" cy="150.8"/><circle r="3.6" cx="729.4" cy="150.1"/><circle r="3.6" cx="723.9" cy="149.9"/><circle r="3.6" cx="728.3" cy="149.3"/><circle r="3.6" cx="726.4" cy="148.4"/><circle r="3.6" cx="730.8" cy="148.1"/><circle r="3.6" cx="723.1" cy="147.5"/><circle r="3.6" cx="727.8" cy="147"/><circle r="3.6" cx="726" cy="146.5"/><circle r="3.6" cx="730" cy="145.6"/><circle r="3.6" cx="724.8" cy="145.5"/><circle r="3.6" cx="728.7" cy="144.9"/><circle r="3.6" cx="726.9" cy="144"/><circle r="3.6" cx="731.6" cy="143.6"/><circle r="3.6" cx="722.8" cy="143"/><circle r="3.6" cx="727.6" cy="142.5"/><circle r="3.6" cx="725.7" cy="141.5"/><circle r="3.6" cx="729.6" cy="140.9"/><circle r="3.6" cx="724.5" cy="140.4"/><circle r="3.6" cx="728.5" cy="139.8"/><circle r="3.6" cx="726.7" cy="139.2"/><circle r="3.6" cx="731.6" cy="138.3"/><circle r="3.6" cx="723.1" cy="137.8"/><circle r="3.6" cx="728.2" cy="137.2"/><circle r="3.6" cx="726" cy="136.8"/><circle r="3.6" cx="731.1" cy="136.3"/><circle r="3.6" cx="724.6" cy="136.2"/><circle r="3.6" cx="729.5" cy="135.9"/><circle r="3.6" cx="727.1" cy="135.3"/><circle r="3.6" cx="733.8" cy="134.9"/><circle r="3.6" cx="720.8" cy="134.6"/><circle r="3.6" cx="727.5" cy="134.2"/><circle r="3.6" cx="725.1" cy="133.9"/><circle r="3.6" cx="730" cy="133.4"/><circle r="3.6" cx="723.5" cy="133.2"/><circle r="3.6" cx="728.6" cy="132.6"/><circle r="3.6" cx="726.4" cy="132.3"/><circle r="3.6" cx="731.5" cy="131.6"/><circle r="3.6" cx="722.9" cy="131.4"/><circle r="3.6" cx="727.9" cy="130.6"/><circle r="3.6" cx="726.1" cy="129.9"/><circle r="3.6" cx="730" cy="129.5"/><circle r="3.6" cx="725.2" cy="129"/><circle r="3.6" cx="728.6" cy="128.2"/><circle r="3.6" cx="727.1" cy="127.6"/><circle r="3.6" cx="730.5" cy="126.6"/><circle r="3.6" cx="724.6" cy="125.8"/><circle r="3.6" cx="727.5" cy="124.9"/><circle r="3.6" cx="726.7" cy="122.9"/><circle r="3.6" cx="728.2" cy="122.4"/><circle r="3.6" cx="726.7" cy="118.5"/><circle r="3.6" cx="727.5" cy="116"/><circle r="3.6" cx="727.3" cy="110.3"/>
<circle r="3.6" cx="770" cy="211.7"/><circle r="3.6" cx="769.7" cy="204.2"/><circle r="3.6" cx="770.6" cy="200.4"/><circle r="3.6" cx="768.8" cy="199"/><circle r="3.6" cx="770.4" cy="197.8"/><circle r="3.6" cx="769.6" cy="196.1"/><circle r="3.6" cx="772" cy="194.3"/><circle r="3.6" cx="767.1" cy="193.2"/><circle r="3.6" cx="770.3" cy="192.1"/><circle r="3.6" cx="768.8" cy="191.1"/><circle r="3.6" cx="772.2" cy="190.9"/><circle r="3.6" cx="767.6" cy="189.6"/><circle r="3.6" cx="771.4" cy="189.3"/><circle r="3.6" cx="769.6" cy="188.7"/><circle r="3.6" cx="774.6" cy="187.9"/><circle r="3.6" cx="764.5" cy="187.4"/><circle r="3.6" cx="770.2" cy="186.8"/><circle r="3.6" cx="768" cy="186.1"/><circle r="3.6" cx="772.9" cy="185.5"/><circle r="3.6" cx="766.2" cy="185.1"/><circle r="3.6" cx="771.5" cy="184.7"/><circle r="3.6" cx="769.1" cy="184.2"/><circle r="3.6" cx="775.2" cy="183.8"/><circle r="3.6" cx="764.6" cy="183.4"/><circle r="3.6" cx="771" cy="182.7"/><circle r="3.6" cx="768.3" cy="182.2"/><circle r="3.6" cx="774.6" cy="181.7"/><circle r="3.6" cx="766.4" cy="181.6"/><circle r="3.6" cx="772.7" cy="181"/><circle r="3.6" cx="769.6" cy="180.4"/><circle r="3.6" cx="778.3" cy="180.3"/><circle r="3.6" cx="760.8" cy="179.9"/><circle r="3.6" cx="770.2" cy="179.3"/><circle r="3.6" cx="766.7" cy="179"/><circle r="3.6" cx="773.9" cy="178.6"/><circle r="3.6" cx="764.1" cy="178.2"/><circle r="3.6" cx="772" cy="177.9"/><circle r="3.6" cx="768.5" cy="177.7"/><circle r="3.6" cx="777.1" cy="177.2"/><circle r="3.6" cx="761.8" cy="176.8"/><circle r="3.6" cx="771.1" cy="176.8"/><circle r="3.6" cx="767.3" cy="176.2"/><circle r="3.6" cx="776" cy="175.9"/><circle r="3.6" cx="764.7" cy="175.8"/><circle r="3.6" cx="773.4" cy="175.5"/><circle r="3.6" cx="769.3" cy="175.1"/><circle r="3.6" cx="780.4" cy="174.9"/><circle r="3.6" cx="759.4" cy="174.5"/><circle r="3.6" cx="770.8" cy="174.3"/><circle r="3.6" cx="766.3" cy="174"/><circle r="3.6" cx="775.9" cy="173.6"/><circle r="3.6" cx="763.2" cy="173.3"/><circle r="3.6" cx="773.2" cy="173.2"/><circle r="3.6" cx="768.6" cy="172.8"/><circle r="3.6" cx="780.3" cy="172.5"/><circle r="3.6" cx="760.9" cy="172.3"/><circle r="3.6" cx="772" cy="172.1"/><circle r="3.6" cx="767.3" cy="171.8"/><circle r="3.6" cx="778.3" cy="171.7"/><circle r="3.6" cx="764.3" cy="171.4"/><circle r="3.6" cx="775" cy="171"/><circle r="3.6" cx="769.7" cy="170.8"/><circle r="3.6" cx="784.8" cy="170.7"/><circle r="3.6" cx="754.3" cy="170.3"/><circle r="3.6" cx="770.1" cy="170.2"/><circle r="3.6" cx="764.6" cy="169.8"/><circle r="3.6" cx="775.9" cy="169.8"/><circle r="3.6" cx="760.6" cy="169.5"/><circle r="3.6" cx="772.8" cy="169.2"/><circle r="3.6" cx="767.5" cy="169"/><circle r="3.6" cx="780.3" cy="168.8"/><circle r="3.6" cx="757.5" cy="168.6"/><circle r="3.6" cx="771.5" cy="168.3"/><circle r="3.6" cx="765.9" cy="168.1"/><circle r="3.6" cx="778.3" cy="167.9"/><circle r="3.6" cx="762.2" cy="167.7"/><circle r="3.6" cx="774.6" cy="167.6"/><circle r="3.6" cx="768.8" cy="167.3"/><circle r="3.6" cx="784" cy="167.1"/><circle r="3.6" cx="754.9" cy="166.9"/><circle r="3.6" cx="770.9" cy="166.6"/><circle r="3.6" cx="764.8" cy="166.6"/><circle r="3.6" cx="777.6" cy="166.4"/><circle r="3.6" cx="760.7" cy="166.2"/><circle r="3.6" cx="774" cy="165.9"/><circle r="3.6" cx="768" cy="165.7"/><circle r="3.6" cx="782.8" cy="165.6"/><circle r="3.6" cx="758" cy="165.4"/><circle r="3.6" cx="772.4" cy="165.2"/><circle r="3.6" cx="766.4" cy="165"/><circle r="3.6" cx="780.1" cy="164.9"/><circle r="3.6" cx="762.7" cy="164.6"/><circle r="3.6" cx="775.8" cy="164.5"/><circle r="3.6" cx="769.5" cy="164.2"/><circle r="3.6" cx="787.2" cy="164.1"/><circle r="3.6" cx="752.8" cy="163.9"/><circle r="3.6" cx="770.5" cy="163.8"/><circle r="3.6" cx="764.1" cy="163.6"/><circle r="3.6" cx="777.4" cy="163.3"/><circle r="3.6" cx="759.7" cy="163.1"/><circle r="3.6" cx="773.7" cy="162.9"/><circle r="3.6" cx="767.5" cy="162.8"/><circle r="3.6" cx="782.4" cy="162.7"/><circle r="3.6" cx="756.8" cy="162.5"/><circle r="3.6" cx="772.1" cy="162.3"/><circle r="3.6" cx="765.9" cy="162.1"/><circle r="3.6" cx="779.7" cy="162"/><circle r="3.6" cx="762" cy="161.6"/><circle r="3.6" cx="775.5" cy="161.6"/><circle r="3.6" cx="769.1" cy="161.2"/><circle r="3.6" cx="786.2" cy="161"/><circle r="3.6" cx="754.9" cy="161"/><circle r="3.6" cx="771.3" cy="160.7"/><circle r="3.6" cx="764.9" cy="160.5"/><circle r="3.6" cx="778.6" cy="160.2"/><circle r="3.6" cx="760.8" cy="160.1"/><circle r="3.6" cx="774.6" cy="159.8"/><circle r="3.6" cx="768.3" cy="159.6"/><circle r="3.6" cx="784.3" cy="159.5"/><circle r="3.6" cx="758.1" cy="159.4"/><circle r="3.6" cx="772.9" cy="159.2"/><circle r="3.6" cx="766.7" cy="158.8"/><circle r="3.6" cx="781.2" cy="158.6"/><circle r="3.6" cx="762.9" cy="158.4"/><circle r="3.6" cx="776.6" cy="158.3"/><circle r="3.6" cx="769.8" cy="158"/><circle r="3.6" cx="789.4" cy="157.9"/><circle r="3.6" cx="750.1" cy="157.8"/><circle r="3.6" cx="770.1" cy="157.6"/><circle r="3.6" cx="763.3" cy="157.3"/><circle r="3.6" cx="777" cy="157.1"/><circle r="3.6" cx="758.5" cy="156.9"/><circle r="3.6" cx="773.3" cy="156.7"/><circle r="3.6" cx="766.9" cy="156.5"/><circle r="3.6" cx="782" cy="156.3"/><circle r="3.6" cx="755.1" cy="156.2"/><circle r="3.6" cx="771.6" cy="156"/><circle r="3.6" cx="765.1" cy="155.8"/><circle r="3.6" cx="779.4" cy="155.7"/><circle r="3.6" cx="760.9" cy="155.4"/><circle r="3.6" cx="775.1" cy="155.2"/><circle r="3.6" cx="768.5" cy="155.2"/><circle r="3.6" cx="785.6" cy="155"/><circle r="3.6" cx="752.7" cy="154.8"/><circle r="3.6" cx="770.9" cy="154.5"/><circle r="3.6" cx="764.1" cy="154.4"/><circle r="3.6" cx="778.4" cy="154.1"/><circle r="3.6" cx="759.5" cy="154"/><circle r="3.6" cx="774.3" cy="153.9"/><circle r="3.6" cx="767.7" cy="153.7"/><circle r="3.6" cx="784" cy="153.4"/><circle r="3.6" cx="756.5" cy="153.3"/><circle r="3.6" cx="772.5" cy="153.1"/><circle r="3.6" cx="765.9" cy="152.9"/><circle r="3.6" cx="781" cy="152.7"/><circle r="3.6" cx="761.8" cy="152.6"/><circle r="3.6" cx="776.3" cy="152.4"/><circle r="3.6" cx="769.3" cy="152.3"/><circle r="3.6" cx="788.5" cy="152"/><circle r="3.6" cx="750.7" cy="151.8"/><circle r="3.6" cx="770.5" cy="151.7"/><circle r="3.6" cx="763.4" cy="151.5"/><circle r="3.6" cx="778" cy="151.4"/><circle r="3.6" cx="758.5" cy="151.2"/><circle r="3.6" cx="773.9" cy="151"/><circle r="3.6" cx="767.2" cy="150.7"/><circle r="3.6" cx="783.5" cy="150.6"/><circle r="3.6" cx="755.2" cy="150.5"/><circle r="3.6" cx="772.2" cy="150.3"/><circle r="3.6" cx="765.3" cy="150.1"/><circle r="3.6" cx="780.6" cy="149.9"/><circle r="3.6" cx="761" cy="149.8"/><circle r="3.6" cx="776" cy="149.6"/><circle r="3.6" cx="768.9" cy="149.4"/><circle r="3.6" cx="787.7" cy="149.2"/><circle r="3.6" cx="752.9" cy="149.1"/><circle r="3.6" cx="771.3" cy="148.9"/><circle r="3.6" cx="764.2" cy="148.8"/><circle r="3.6" cx="779.5" cy="148.5"/><circle r="3.6" cx="759.5" cy="148.3"/><circle r="3.6" cx="775" cy="148.2"/><circle r="3.6" cx="768" cy="148"/><circle r="3.6" cx="785.7" cy="147.8"/><circle r="3.6" cx="756.5" cy="147.8"/><circle r="3.6" cx="773.1" cy="147.4"/><circle r="3.6" cx="766.2" cy="147.4"/><circle r="3.6" cx="782.4" cy="147.2"/><circle r="3.6" cx="761.9" cy="147"/><circle r="3.6" cx="777.2" cy="146.9"/><circle r="3.6" cx="769.7" cy="146.7"/><circle r="3.6" cx="791.3" cy="146.5"/><circle r="3.6" cx="748.7" cy="146.4"/><circle r="3.6" cx="770.3" cy="146.1"/><circle r="3.6" cx="762.7" cy="146"/><circle r="3.6" cx="778.2" cy="145.8"/><circle r="3.6" cx="757.4" cy="145.6"/><circle r="3.6" cx="773.9" cy="145.4"/><circle r="3.6" cx="766.8" cy="145.3"/><circle r="3.6" cx="783.9" cy="145.2"/><circle r="3.6" cx="753.8" cy="145"/><circle r="3.6" cx="772.1" cy="144.9"/><circle r="3.6" cx="764.8" cy="144.7"/><circle r="3.6" cx="780.9" cy="144.5"/><circle r="3.6" cx="760.1" cy="144.3"/><circle r="3.6" cx="776" cy="144.2"/><circle r="3.6" cx="768.6" cy="144"/><circle r="3.6" cx="788.1" cy="143.8"/><circle r="3.6" cx="751.2" cy="143.7"/><circle r="3.6" cx="771.2" cy="143.5"/><circle r="3.6" cx="763.6" cy="143.4"/><circle r="3.6" cx="779.7" cy="143.1"/><circle r="3.6" cx="758.6" cy="143"/><circle r="3.6" cx="775.1" cy="142.8"/><circle r="3.6" cx="767.6" cy="142.7"/><circle r="3.6" cx="786.1" cy="142.4"/><circle r="3.6" cx="755.3" cy="142.4"/><circle r="3.6" cx="773.1" cy="142.2"/><circle r="3.6" cx="765.7" cy="142"/><circle r="3.6" cx="782.7" cy="141.9"/><circle r="3.6" cx="761.2" cy="141.7"/><circle r="3.6" cx="777.3" cy="141.6"/><circle r="3.6" cx="769.5" cy="141.4"/><circle r="3.6" cx="791.5" cy="141.3"/><circle r="3.6" cx="749.3" cy="141.1"/><circle r="3.6" cx="770.8" cy="140.9"/><circle r="3.6" cx="762.9" cy="140.9"/><circle r="3.6" cx="779.2" cy="140.7"/><circle r="3.6" cx="757.6" cy="140.5"/><circle r="3.6" cx="774.6" cy="140.3"/><circle r="3.6" cx="767.1" cy="140.2"/><circle r="3.6" cx="785.4" cy="140"/><circle r="3.6" cx="754.1" cy="139.9"/><circle r="3.6" cx="772.6" cy="139.8"/><circle r="3.6" cx="765.1" cy="139.6"/><circle r="3.6" cx="782.1" cy="139.5"/><circle r="3.6" cx="760.4" cy="139.2"/><circle r="3.6" cx="776.8" cy="139.1"/><circle r="3.6" cx="769" cy="138.9"/><circle r="3.6" cx="790.1" cy="138.8"/><circle r="3.6" cx="751.9" cy="138.6"/><circle r="3.6" cx="771.7" cy="138.4"/><circle r="3.6" cx="764" cy="138.3"/><circle r="3.6" cx="780.6" cy="138.2"/><circle r="3.6" cx="759" cy="138"/><circle r="3.6" cx="775.7" cy="137.9"/><circle r="3.6" cx="768.1" cy="137.7"/><circle r="3.6" cx="787.5" cy="137.5"/><circle r="3.6" cx="755.9" cy="137.5"/><circle r="3.6" cx="773.6" cy="137.2"/><circle r="3.6" cx="766.1" cy="137.1"/><circle r="3.6" cx="783.6" cy="137"/><circle r="3.6" cx="761.7" cy="136.8"/><circle r="3.6" cx="778" cy="136.6"/><circle r="3.6" cx="769.9" cy="136.5"/><circle r="3.6" cx="793.6" cy="136.3"/><circle r="3.6" cx="746.1" cy="136.2"/><circle r="3.6" cx="770.1" cy="136"/><circle r="3.6" cx="762" cy="135.9"/><circle r="3.6" cx="778.1" cy="135.7"/><circle r="3.6" cx="756.4" cy="135.6"/><circle r="3.6" cx="773.7" cy="135.4"/><circle r="3.6" cx="766.4" cy="135.1"/><circle r="3.6" cx="783.7" cy="135"/><circle r="3.6" cx="752.7" cy="134.9"/><circle r="3.6" cx="771.8" cy="134.7"/><circle r="3.6" cx="764.4" cy="134.6"/><circle r="3.6" cx="780.6" cy="134.5"/><circle r="3.6" cx="759.6" cy="134.2"/><circle r="3.6" cx="775.7" cy="134.1"/><circle r="3.6" cx="768.3" cy="133.9"/><circle r="3.6" cx="787.3" cy="133.7"/><circle r="3.6" cx="750.5" cy="133.5"/><circle r="3.6" cx="770.9" cy="133.4"/><circle r="3.6" cx="763.4" cy="133.3"/><circle r="3.6" cx="779.1" cy="133.2"/><circle r="3.6" cx="758.4" cy="132.9"/><circle r="3.6" cx="774.6" cy="132.8"/><circle r="3.6" cx="767.4" cy="132.7"/><circle r="3.6" cx="785" cy="132.4"/><circle r="3.6" cx="755.3" cy="132.3"/><circle r="3.6" cx="772.7" cy="132.1"/><circle r="3.6" cx="765.6" cy="131.9"/><circle r="3.6" cx="781.6" cy="131.8"/><circle r="3.6" cx="761.2" cy="131.6"/><circle r="3.6" cx="776.6" cy="131.5"/><circle r="3.6" cx="769.2" cy="131.3"/><circle r="3.6" cx="789.2" cy="131.1"/><circle r="3.6" cx="749.7" cy="130.9"/><circle r="3.6" cx="770.5" cy="130.7"/><circle r="3.6" cx="763.1" cy="130.6"/><circle r="3.6" cx="778.2" cy="130.4"/><circle r="3.6" cx="758.1" cy="130.3"/><circle r="3.6" cx="774" cy="130.1"/><circle r="3.6" cx="767.1" cy="129.9"/><circle r="3.6" cx="783.6" cy="129.7"/><circle r="3.6" cx="754.9" cy="129.5"/><circle r="3.6" cx="772.1" cy="129.4"/><circle r="3.6" cx="765.3" cy="129.2"/><circle r="3.6" cx="780.5" cy="129.1"/><circle r="3.6" cx="761" cy="128.9"/><circle r="3.6" cx="775.8" cy="128.7"/><circle r="3.6" cx="768.8" cy="128.5"/><circle r="3.6" cx="787.2" cy="128.3"/><circle r="3.6" cx="753.1" cy="128.2"/><circle r="3.6" cx="771.2" cy="128"/><circle r="3.6" cx="764.4" cy="127.8"/><circle r="3.6" cx="779" cy="127.6"/><circle r="3.6" cx="759.9" cy="127.4"/><circle r="3.6" cx="774.7" cy="127.3"/><circle r="3.6" cx="768" cy="127"/><circle r="3.6" cx="784.7" cy="126.9"/><circle r="3.6" cx="757.2" cy="126.7"/><circle r="3.6" cx="772.9" cy="126.5"/><circle r="3.6" cx="766.4" cy="126.3"/><circle r="3.6" cx="781.4" cy="126.1"/><circle r="3.6" cx="762.5" cy="125.9"/><circle r="3.6" cx="776.6" cy="125.7"/><circle r="3.6" cx="769.7" cy="125.6"/><circle r="3.6" cx="789.2" cy="125.4"/><circle r="3.6" cx="750.4" cy="125.2"/><circle r="3.6" cx="770.2" cy="125.1"/><circle r="3.6" cx="763.4" cy="124.8"/><circle r="3.6" cx="777.2" cy="124.7"/><circle r="3.6" cx="758.8" cy="124.4"/><circle r="3.6" cx="773.4" cy="124.3"/><circle r="3.6" cx="767.1" cy="124.2"/><circle r="3.6" cx="782" cy="124"/><circle r="3.6" cx="755.8" cy="123.8"/><circle r="3.6" cx="771.7" cy="123.6"/><circle r="3.6" cx="765.5" cy="123.4"/><circle r="3.6" cx="779.2" cy="123.3"/><circle r="3.6" cx="761.5" cy="123.1"/><circle r="3.6" cx="775" cy="122.8"/><circle r="3.6" cx="768.8" cy="122.6"/><circle r="3.6" cx="785" cy="122.5"/><circle r="3.6" cx="754.3" cy="122.3"/><circle r="3.6" cx="770.9" cy="122"/><circle r="3.6" cx="764.7" cy="121.8"/><circle r="3.6" cx="777.8" cy="121.7"/><circle r="3.6" cx="760.7" cy="121.4"/><circle r="3.6" cx="774" cy="121.4"/><circle r="3.6" cx="768.1" cy="121.2"/><circle r="3.6" cx="782.6" cy="120.9"/><circle r="3.6" cx="758.4" cy="120.7"/><circle r="3.6" cx="772.3" cy="120.5"/><circle r="3.6" cx="766.6" cy="120.2"/><circle r="3.6" cx="779.6" cy="120.1"/><circle r="3.6" cx="763.2" cy="119.9"/><circle r="3.6" cx="775.5" cy="119.7"/><circle r="3.6" cx="769.6" cy="119.4"/><circle r="3.6" cx="785.8" cy="119.3"/><circle r="3.6" cx="754.7" cy="119"/><circle r="3.6" cx="770.5" cy="118.7"/><circle r="3.6" cx="764.8" cy="118.6"/><circle r="3.6" cx="776.5" cy="118.3"/><circle r="3.6" cx="761.2" cy="118.2"/><circle r="3.6" cx="773.2" cy="117.8"/><circle r="3.6" cx="768" cy="117.7"/><circle r="3.6" cx="780.5" cy="117.5"/><circle r="3.6" cx="759.1" cy="117.3"/><circle r="3.6" cx="771.7" cy="117"/><circle r="3.6" cx="766.7" cy="116.9"/><circle r="3.6" cx="777.9" cy="116.6"/><circle r="3.6" cx="763.7" cy="116.3"/><circle r="3.6" cx="774.4" cy="116"/><circle r="3.6" cx="769.3" cy="115.9"/><circle r="3.6" cx="782.6" cy="115.5"/><circle r="3.6" cx="758.6" cy="115.3"/><circle r="3.6" cx="771" cy="115.2"/><circle r="3.6" cx="766.3" cy="114.8"/><circle r="3.6" cx="776.4" cy="114.6"/><circle r="3.6" cx="763.4" cy="114.3"/><circle r="3.6" cx="773.3" cy="114"/><circle r="3.6" cx="768.8" cy="113.7"/><circle r="3.6" cx="779.9" cy="113.4"/><circle r="3.6" cx="762" cy="113"/><circle r="3.6" cx="772" cy="112.9"/><circle r="3.6" cx="767.8" cy="112.6"/><circle r="3.6" cx="777.4" cy="112.4"/><circle r="3.6" cx="765.5" cy="112"/><circle r="3.6" cx="774.2" cy="111.7"/><circle r="3.6" cx="769.9" cy="111.5"/><circle r="3.6" cx="781.8" cy="111"/><circle r="3.6" cx="758.3" cy="110.8"/><circle r="3.6" cx="770.1" cy="110.4"/><circle r="3.6" cx="766.2" cy="110.2"/><circle r="3.6" cx="774" cy="109.8"/><circle r="3.6" cx="763.7" cy="109.4"/><circle r="3.6" cx="771.8" cy="109.1"/><circle r="3.6" cx="768.4" cy="108.7"/><circle r="3.6" cx="776.2" cy="108.5"/><circle r="3.6" cx="762.5" cy="108.1"/><circle r="3.6" cx="770.8" cy="107.8"/><circle r="3.6" cx="767.7" cy="107.4"/><circle r="3.6" cx="774.4" cy="106.8"/><circle r="3.6" cx="765.9" cy="106.4"/><circle r="3.6" cx="772.3" cy="105.8"/><circle r="3.6" cx="769.4" cy="105.4"/><circle r="3.6" cx="776.5" cy="104.9"/><circle r="3.6" cx="763" cy="104.6"/><circle r="3.6" cx="770.4" cy="104.3"/><circle r="3.6" cx="767.7" cy="103.6"/><circle r="3.6" cx="773.1" cy="103"/><circle r="3.6" cx="766.2" cy="102.7"/><circle r="3.6" cx="771.5" cy="102.2"/><circle r="3.6" cx="769.2" cy="101.5"/><circle r="3.6" cx="774.7" cy="101.3"/><circle r="3.6" cx="765.7" cy="100.7"/><circle r="3.6" cx="770.8" cy="100.3"/><circle r="3.6" cx="768.8" cy="99.2"/><circle r="3.6" cx="773.2" cy="99.1"/><circle r="3.6" cx="767.9" cy="98.2"/><circle r="3.6" cx="771.6" cy="97.2"/><circle r="3.6" cx="769.8" cy="97"/><circle r="3.6" cx="774" cy="95.9"/><circle r="3.6" cx="766.1" cy="95.1"/><circle r="3.6" cx="770.1" cy="93.6"/><circle r="3.6" cx="769" cy="92.6"/><circle r="3.6" cx="771.2" cy="91.7"/><circle r="3.6" cx="768.5" cy="90.7"/><circle r="3.6" cx="770.4" cy="89"/><circle r="3.6" cx="769.8" cy="85.9"/><circle r="3.6" cx="770.9" cy="84.2"/><circle r="3.6" cx="769.3" cy="81.8"/><circle r="3.6" cx="770" cy="73.5"/>
</g>
<g class="pt" filter="url(#so)" fill="#000" fill-opacity=".075" stroke="#000" stroke-opacity=".17" stroke-width="0.9">
<circle r="3.6" cx="685" cy="74.8"/><circle r="3.6" cx="684.7" cy="96.6"/><circle r="3.6" cx="684.3" cy="219.2"/><circle r="3.6" cx="684.1" cy="220.8"/><circle r="3.6" cx="685.2" cy="234.8"/><circle r="3.6" cx="727.8" cy="87.8"/><circle r="3.6" cx="727.1" cy="220.5"/><circle r="3.6" cx="769.6" cy="58.9"/><circle r="3.6" cx="770.1" cy="62.1"/><circle r="3.6" cx="770.4" cy="65.4"/><circle r="3.6" cx="766.8" cy="71.6"/><circle r="3.6" cx="773.4" cy="72.6"/><circle r="3.6" cx="775.5" cy="75.5"/><circle r="3.6" cx="765" cy="76.1"/><circle r="3.6" cx="769.8" cy="218.6"/><circle r="3.6" cx="770.2" cy="220.5"/><circle r="3.6" cx="770" cy="224.7"/><circle r="3.6" cx="770.5" cy="230.3"/>
</g></g>
<path d="M684.6 100.8V144.7M684.6 174.2V217.3M668.8 144.7H700.4V155.4L692.2 158.7L700.4 162.0V174.2H668.8V162.0L677.0 158.7L668.8 155.4ZM727.3 110.3V137.1M727.3 168.5V212.7M711.5 137.1H743.1V150.1L734.9 154.4L743.1 158.7V168.5H711.5V158.7L719.7 154.4L711.5 150.1ZM770.0 73.5V125.3M770.0 162.0V211.7M754.2 125.3H785.8V140.8L777.6 142.8L785.8 144.8V162.0H754.2V144.8L762.4 142.8L754.2 140.8Z" stroke="#000" stroke-width="2" fill="none" stroke-linejoin="miter"/>
<path d="M677.0 158.7H692.2M719.7 154.4H734.9M762.4 142.8H777.6" stroke="#000" stroke-width="4" fill="none"/>
<text class="st" x="728.85" y="17.9">***</text>
<text class="st" x="749.40" y="37.5">***</text>
<path d="M685.7 25.0V20.3Q685.7 18.1 687.9 18.1H769.7Q771.9 18.1 771.9 20.3V25.0M729.4 43.1V37.4Q729.4 35.2 731.6 35.2H769.7Q771.9 35.2 771.9 37.4V43.1" stroke="#222" stroke-width="1.25" fill="none"/>
</g>
</svg></body></html>
